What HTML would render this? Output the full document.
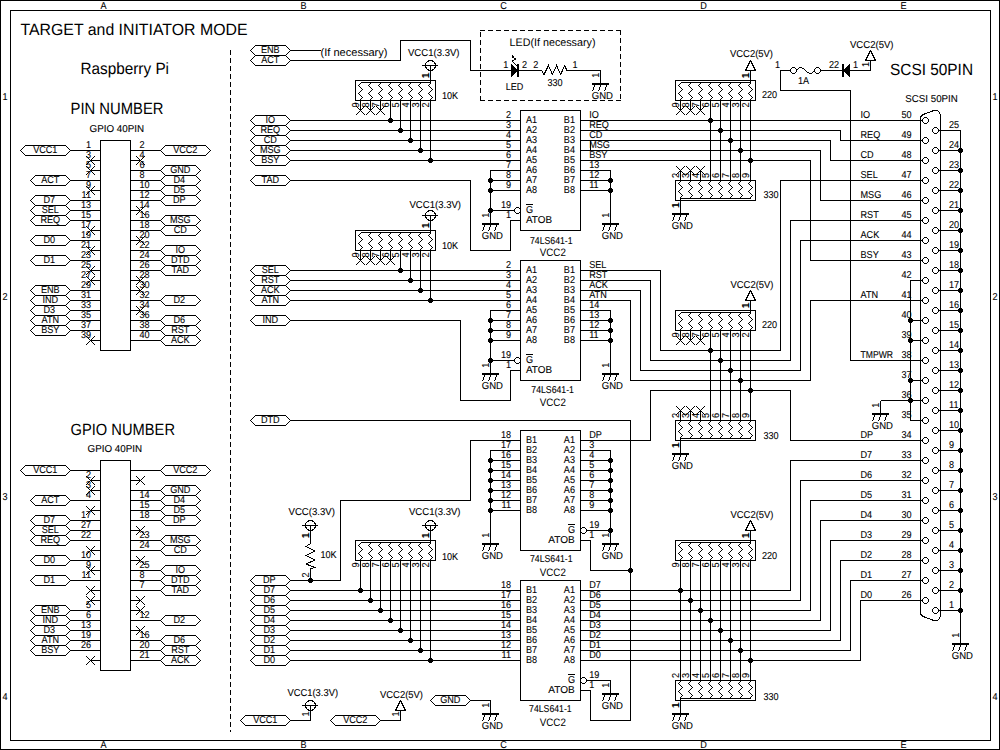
<!DOCTYPE html>
<html lang="en">
<head>
<meta charset="utf-8">
<title>TARGET and INITIATOR MODE - Raspberry Pi SCSI schematic</title>
<style>
html,body{margin:0;padding:0;background:#fff;}
body{width:1000px;height:750px;overflow:hidden;}
svg{display:block;}
svg *{vector-effect:none;}
.g line,.g polyline,.g path,.g rect,.g polygon,.g circle{fill:none;stroke:#000;stroke-width:1;stroke-linecap:butt;stroke-linejoin:miter;}
.g .w{fill:#fff;}
.g .d{fill:#000;stroke:none;}
.g .k{fill:#000;stroke:none;}
.g .x{stroke-linecap:square;}
.g polygon{stroke-linejoin:bevel;}
.g .dash{stroke-dasharray:5 3;}
.g rect.dash{fill:none;}
text{font-family:"Liberation Sans",Arial,Helvetica,sans-serif;fill:#000;stroke:none;text-rendering:geometricPrecision;}
.s{font-size:10px;stroke:#000;stroke-width:0.1px;}
.v{font-size:10.8px;}
.m{font-size:11px;}
.b{font-size:16.3px;}
</style>
</head>
<body>
<svg width="1000" height="750" viewBox="0 0 1000 750">
<rect x="0" y="0" width="1000" height="750" fill="#fff"/>
<g class="g" transform="translate(0.5 0.5)" shape-rendering="crispEdges">
<rect class="w" x="0" y="0" width="999" height="749"/>
<rect class="w" x="10" y="10" width="980" height="730"/>
<text class="s" transform="translate(103 8.2) scale(0.91 1)" text-anchor="middle">A</text>
<text class="s" transform="translate(103 747.5) scale(0.91 1)" text-anchor="middle">A</text>
<text class="s" transform="translate(303 8.2) scale(0.91 1)" text-anchor="middle">B</text>
<text class="s" transform="translate(303 747.5) scale(0.91 1)" text-anchor="middle">B</text>
<text class="s" transform="translate(503 8.2) scale(0.91 1)" text-anchor="middle">C</text>
<text class="s" transform="translate(503 747.5) scale(0.91 1)" text-anchor="middle">C</text>
<text class="s" transform="translate(703 8.2) scale(0.91 1)" text-anchor="middle">D</text>
<text class="s" transform="translate(703 747.5) scale(0.91 1)" text-anchor="middle">D</text>
<text class="s" transform="translate(903 8.2) scale(0.91 1)" text-anchor="middle">E</text>
<text class="s" transform="translate(903 747.5) scale(0.91 1)" text-anchor="middle">E</text>
<text class="s" transform="translate(4.5 99) scale(0.91 1)" text-anchor="middle">1</text>
<text class="s" transform="translate(994.5 99) scale(0.91 1)" text-anchor="middle">1</text>
<text class="s" transform="translate(4.5 299) scale(0.91 1)" text-anchor="middle">2</text>
<text class="s" transform="translate(994.5 299) scale(0.91 1)" text-anchor="middle">2</text>
<text class="s" transform="translate(4.5 499) scale(0.91 1)" text-anchor="middle">3</text>
<text class="s" transform="translate(994.5 499) scale(0.91 1)" text-anchor="middle">3</text>
<text class="s" transform="translate(4.5 699) scale(0.91 1)" text-anchor="middle">4</text>
<text class="s" transform="translate(994.5 699) scale(0.91 1)" text-anchor="middle">4</text>
<text class="b" x="20" y="34.6" textLength="227" lengthAdjust="spacingAndGlyphs">TARGET and INITIATOR MODE</text>
<text class="b" x="80" y="73.3" textLength="88.5" lengthAdjust="spacingAndGlyphs">Raspberry Pi</text>
<text class="b" x="70" y="113.8" textLength="93" lengthAdjust="spacingAndGlyphs">PIN NUMBER</text>
<text class="s" x="89" y="131.3" textLength="54.5" lengthAdjust="spacingAndGlyphs">GPIO 40PIN</text>
<text class="b" x="70" y="434.3" textLength="104.5" lengthAdjust="spacingAndGlyphs">GPIO NUMBER</text>
<text class="s" x="87" y="451.3" textLength="54.5" lengthAdjust="spacingAndGlyphs">GPIO 40PIN</text>
<text class="b" x="889.5" y="74.8" textLength="83" lengthAdjust="spacingAndGlyphs">SCSI 50PIN</text>
<text class="s" x="904.8" y="101.2" textLength="52.5" lengthAdjust="spacingAndGlyphs">SCSI 50PIN</text>
<line x1="230" y1="49.5" x2="230" y2="731" class="dash"/>
<rect class="w" x="100" y="140" width="30" height="210"/>
<polygon class="w" points="20,150 25,145 65,145 70,150 65,155 25,155"/>
<text class="s" transform="translate(44.8 152.1) scale(0.91 1)" text-anchor="middle">VCC1</text>
<line x1="70" y1="150" x2="100" y2="150"/>
<text class="s" transform="translate(90.5 147.2) scale(0.91 1)" text-anchor="end">1</text>
<polygon class="w" points="160,150 165,145 205,145 210,150 205,155 165,155"/>
<text class="s" transform="translate(184.8 152.1) scale(0.91 1)" text-anchor="middle">VCC2</text>
<line x1="130" y1="150" x2="160" y2="150"/>
<text class="s" transform="translate(139 147.2) scale(0.91 1)">2</text>
<line x1="90" y1="160" x2="100" y2="160"/>
<path class="x" d="M85.5 155.5l9 9m0 -9l-9 9"/>
<text class="s" transform="translate(90.5 157.2) scale(0.91 1)" text-anchor="end">3</text>
<line x1="130" y1="160" x2="140" y2="160"/>
<path class="x" d="M135.5 155.5l9 9m0 -9l-9 9"/>
<text class="s" transform="translate(139 157.2) scale(0.91 1)">4</text>
<line x1="90" y1="170" x2="100" y2="170"/>
<path class="x" d="M85.5 165.5l9 9m0 -9l-9 9"/>
<text class="s" transform="translate(90.5 167.2) scale(0.91 1)" text-anchor="end">5</text>
<polygon class="w" points="160,170 165,165 195,165 200,170 195,175 165,175"/>
<text class="s" transform="translate(179.8 172.1) scale(0.91 1)" text-anchor="middle">GND</text>
<line x1="130" y1="170" x2="160" y2="170"/>
<text class="s" transform="translate(139 167.2) scale(0.91 1)">6</text>
<polygon class="w" points="30,180 35,175 65,175 70,180 65,185 35,185"/>
<text class="s" transform="translate(49.8 182.1) scale(0.91 1)" text-anchor="middle">ACT</text>
<line x1="70" y1="180" x2="100" y2="180"/>
<text class="s" transform="translate(90.5 177.2) scale(0.91 1)" text-anchor="end">7</text>
<polygon class="w" points="160,180 165,175 195,175 200,180 195,185 165,185"/>
<text class="s" transform="translate(178.8 182.1) scale(0.91 1)" text-anchor="middle">D4</text>
<line x1="130" y1="180" x2="160" y2="180"/>
<text class="s" transform="translate(139 177.2) scale(0.91 1)">8</text>
<line x1="90" y1="190" x2="100" y2="190"/>
<path class="x" d="M85.5 185.5l9 9m0 -9l-9 9"/>
<text class="s" transform="translate(90.5 187.2) scale(0.91 1)" text-anchor="end">9</text>
<polygon class="w" points="160,190 165,185 195,185 200,190 195,195 165,195"/>
<text class="s" transform="translate(178.8 192.1) scale(0.91 1)" text-anchor="middle">D5</text>
<line x1="130" y1="190" x2="160" y2="190"/>
<text class="s" transform="translate(139 187.2) scale(0.91 1)">10</text>
<polygon class="w" points="30,200 35,195 65,195 70,200 65,205 35,205"/>
<text class="s" transform="translate(48.8 202.1) scale(0.91 1)" text-anchor="middle">D7</text>
<line x1="70" y1="200" x2="100" y2="200"/>
<text class="s" transform="translate(90.5 197.2) scale(0.91 1)" text-anchor="end">11</text>
<polygon class="w" points="160,200 165,195 195,195 200,200 195,205 165,205"/>
<text class="s" transform="translate(178.8 202.1) scale(0.91 1)" text-anchor="middle">DP</text>
<line x1="130" y1="200" x2="160" y2="200"/>
<text class="s" transform="translate(139 197.2) scale(0.91 1)">12</text>
<polygon class="w" points="30,210 35,205 65,205 70,210 65,215 35,215"/>
<text class="s" transform="translate(49.8 212.1) scale(0.91 1)" text-anchor="middle">SEL</text>
<line x1="70" y1="210" x2="100" y2="210"/>
<text class="s" transform="translate(90.5 207.2) scale(0.91 1)" text-anchor="end">13</text>
<line x1="130" y1="210" x2="140" y2="210"/>
<path class="x" d="M135.5 205.5l9 9m0 -9l-9 9"/>
<text class="s" transform="translate(139 207.2) scale(0.91 1)">14</text>
<polygon class="w" points="30,220 35,215 65,215 70,220 65,225 35,225"/>
<text class="s" transform="translate(49.8 222.1) scale(0.91 1)" text-anchor="middle">REQ</text>
<line x1="70" y1="220" x2="100" y2="220"/>
<text class="s" transform="translate(90.5 217.2) scale(0.91 1)" text-anchor="end">15</text>
<polygon class="w" points="160,220 165,215 195,215 200,220 195,225 165,225"/>
<text class="s" transform="translate(179.8 222.1) scale(0.91 1)" text-anchor="middle">MSG</text>
<line x1="130" y1="220" x2="160" y2="220"/>
<text class="s" transform="translate(139 217.2) scale(0.91 1)">16</text>
<line x1="90" y1="230" x2="100" y2="230"/>
<path class="x" d="M85.5 225.5l9 9m0 -9l-9 9"/>
<text class="s" transform="translate(90.5 227.2) scale(0.91 1)" text-anchor="end">17</text>
<polygon class="w" points="160,230 165,225 195,225 200,230 195,235 165,235"/>
<text class="s" transform="translate(179.8 232.1) scale(0.91 1)" text-anchor="middle">CD</text>
<line x1="130" y1="230" x2="160" y2="230"/>
<text class="s" transform="translate(139 227.2) scale(0.91 1)">18</text>
<polygon class="w" points="30,240 35,235 65,235 70,240 65,245 35,245"/>
<text class="s" transform="translate(48.8 242.1) scale(0.91 1)" text-anchor="middle">D0</text>
<line x1="70" y1="240" x2="100" y2="240"/>
<text class="s" transform="translate(90.5 237.2) scale(0.91 1)" text-anchor="end">19</text>
<line x1="130" y1="240" x2="140" y2="240"/>
<path class="x" d="M135.5 235.5l9 9m0 -9l-9 9"/>
<text class="s" transform="translate(139 237.2) scale(0.91 1)">20</text>
<line x1="90" y1="250" x2="100" y2="250"/>
<path class="x" d="M85.5 245.5l9 9m0 -9l-9 9"/>
<text class="s" transform="translate(90.5 247.2) scale(0.91 1)" text-anchor="end">21</text>
<polygon class="w" points="160,250 165,245 195,245 200,250 195,255 165,255"/>
<text class="s" transform="translate(179.8 252.1) scale(0.91 1)" text-anchor="middle">IO</text>
<line x1="130" y1="250" x2="160" y2="250"/>
<text class="s" transform="translate(139 247.2) scale(0.91 1)">22</text>
<polygon class="w" points="30,260 35,255 65,255 70,260 65,265 35,265"/>
<text class="s" transform="translate(48.8 262.1) scale(0.91 1)" text-anchor="middle">D1</text>
<line x1="70" y1="260" x2="100" y2="260"/>
<text class="s" transform="translate(90.5 257.2) scale(0.91 1)" text-anchor="end">23</text>
<polygon class="w" points="160,260 165,255 195,255 200,260 195,265 165,265"/>
<text class="s" transform="translate(179.8 262.1) scale(0.91 1)" text-anchor="middle">DTD</text>
<line x1="130" y1="260" x2="160" y2="260"/>
<text class="s" transform="translate(139 257.2) scale(0.91 1)">24</text>
<line x1="90" y1="270" x2="100" y2="270"/>
<path class="x" d="M85.5 265.5l9 9m0 -9l-9 9"/>
<text class="s" transform="translate(90.5 267.2) scale(0.91 1)" text-anchor="end">25</text>
<polygon class="w" points="160,270 165,265 195,265 200,270 195,275 165,275"/>
<text class="s" transform="translate(179.8 272.1) scale(0.91 1)" text-anchor="middle">TAD</text>
<line x1="130" y1="270" x2="160" y2="270"/>
<text class="s" transform="translate(139 267.2) scale(0.91 1)">26</text>
<line x1="90" y1="280" x2="100" y2="280"/>
<path class="x" d="M85.5 275.5l9 9m0 -9l-9 9"/>
<text class="s" transform="translate(90.5 277.2) scale(0.91 1)" text-anchor="end">27</text>
<line x1="130" y1="280" x2="140" y2="280"/>
<path class="x" d="M135.5 275.5l9 9m0 -9l-9 9"/>
<text class="s" transform="translate(139 277.2) scale(0.91 1)">28</text>
<polygon class="w" points="30,290 35,285 65,285 70,290 65,295 35,295"/>
<text class="s" transform="translate(49.8 292.1) scale(0.91 1)" text-anchor="middle">ENB</text>
<line x1="70" y1="290" x2="100" y2="290"/>
<text class="s" transform="translate(90.5 287.2) scale(0.91 1)" text-anchor="end">29</text>
<line x1="130" y1="290" x2="140" y2="290"/>
<path class="x" d="M135.5 285.5l9 9m0 -9l-9 9"/>
<text class="s" transform="translate(139 287.2) scale(0.91 1)">30</text>
<polygon class="w" points="30,300 35,295 65,295 70,300 65,305 35,305"/>
<text class="s" transform="translate(49.8 302.1) scale(0.91 1)" text-anchor="middle">IND</text>
<line x1="70" y1="300" x2="100" y2="300"/>
<text class="s" transform="translate(90.5 297.2) scale(0.91 1)" text-anchor="end">31</text>
<polygon class="w" points="160,300 165,295 195,295 200,300 195,305 165,305"/>
<text class="s" transform="translate(178.8 302.1) scale(0.91 1)" text-anchor="middle">D2</text>
<line x1="130" y1="300" x2="160" y2="300"/>
<text class="s" transform="translate(139 297.2) scale(0.91 1)">32</text>
<polygon class="w" points="30,310 35,305 65,305 70,310 65,315 35,315"/>
<text class="s" transform="translate(48.8 312.1) scale(0.91 1)" text-anchor="middle">D3</text>
<line x1="70" y1="310" x2="100" y2="310"/>
<text class="s" transform="translate(90.5 307.2) scale(0.91 1)" text-anchor="end">33</text>
<line x1="130" y1="310" x2="140" y2="310"/>
<path class="x" d="M135.5 305.5l9 9m0 -9l-9 9"/>
<text class="s" transform="translate(139 307.2) scale(0.91 1)">34</text>
<polygon class="w" points="30,320 35,315 65,315 70,320 65,325 35,325"/>
<text class="s" transform="translate(49.8 322.1) scale(0.91 1)" text-anchor="middle">ATN</text>
<line x1="70" y1="320" x2="100" y2="320"/>
<text class="s" transform="translate(90.5 317.2) scale(0.91 1)" text-anchor="end">35</text>
<polygon class="w" points="160,320 165,315 195,315 200,320 195,325 165,325"/>
<text class="s" transform="translate(178.8 322.1) scale(0.91 1)" text-anchor="middle">D6</text>
<line x1="130" y1="320" x2="160" y2="320"/>
<text class="s" transform="translate(139 317.2) scale(0.91 1)">36</text>
<polygon class="w" points="30,330 35,325 65,325 70,330 65,335 35,335"/>
<text class="s" transform="translate(49.8 332.1) scale(0.91 1)" text-anchor="middle">BSY</text>
<line x1="70" y1="330" x2="100" y2="330"/>
<text class="s" transform="translate(90.5 327.2) scale(0.91 1)" text-anchor="end">37</text>
<polygon class="w" points="160,330 165,325 195,325 200,330 195,335 165,335"/>
<text class="s" transform="translate(179.8 332.1) scale(0.91 1)" text-anchor="middle">RST</text>
<line x1="130" y1="330" x2="160" y2="330"/>
<text class="s" transform="translate(139 327.2) scale(0.91 1)">38</text>
<line x1="90" y1="340" x2="100" y2="340"/>
<path class="x" d="M85.5 335.5l9 9m0 -9l-9 9"/>
<text class="s" transform="translate(90.5 337.2) scale(0.91 1)" text-anchor="end">39</text>
<polygon class="w" points="160,340 165,335 195,335 200,340 195,345 165,345"/>
<text class="s" transform="translate(179.8 342.1) scale(0.91 1)" text-anchor="middle">ACK</text>
<line x1="130" y1="340" x2="160" y2="340"/>
<text class="s" transform="translate(139 337.2) scale(0.91 1)">40</text>
<rect class="w" x="100" y="460" width="30" height="210"/>
<polygon class="w" points="20,470 25,465 65,465 70,470 65,475 25,475"/>
<text class="s" transform="translate(44.8 472.1) scale(0.91 1)" text-anchor="middle">VCC1</text>
<line x1="70" y1="470" x2="100" y2="470"/>
<polygon class="w" points="160,470 165,465 205,465 210,470 205,475 165,475"/>
<text class="s" transform="translate(184.8 472.1) scale(0.91 1)" text-anchor="middle">VCC2</text>
<line x1="130" y1="470" x2="160" y2="470"/>
<line x1="90" y1="480" x2="100" y2="480"/>
<path class="x" d="M85.5 475.5l9 9m0 -9l-9 9"/>
<text class="s" transform="translate(90.5 477.2) scale(0.91 1)" text-anchor="end">2</text>
<line x1="130" y1="480" x2="140" y2="480"/>
<path class="x" d="M135.5 475.5l9 9m0 -9l-9 9"/>
<line x1="90" y1="490" x2="100" y2="490"/>
<path class="x" d="M85.5 485.5l9 9m0 -9l-9 9"/>
<text class="s" transform="translate(90.5 487.2) scale(0.91 1)" text-anchor="end">3</text>
<polygon class="w" points="160,490 165,485 195,485 200,490 195,495 165,495"/>
<text class="s" transform="translate(179.8 492.1) scale(0.91 1)" text-anchor="middle">GND</text>
<line x1="130" y1="490" x2="160" y2="490"/>
<polygon class="w" points="30,500 35,495 65,495 70,500 65,505 35,505"/>
<text class="s" transform="translate(49.8 502.1) scale(0.91 1)" text-anchor="middle">ACT</text>
<line x1="70" y1="500" x2="100" y2="500"/>
<text class="s" transform="translate(90.5 497.2) scale(0.91 1)" text-anchor="end">4</text>
<polygon class="w" points="160,500 165,495 195,495 200,500 195,505 165,505"/>
<text class="s" transform="translate(178.8 502.1) scale(0.91 1)" text-anchor="middle">D4</text>
<line x1="130" y1="500" x2="160" y2="500"/>
<text class="s" transform="translate(139 497.2) scale(0.91 1)">14</text>
<line x1="90" y1="510" x2="100" y2="510"/>
<path class="x" d="M85.5 505.5l9 9m0 -9l-9 9"/>
<polygon class="w" points="160,510 165,505 195,505 200,510 195,515 165,515"/>
<text class="s" transform="translate(178.8 512.1) scale(0.91 1)" text-anchor="middle">D5</text>
<line x1="130" y1="510" x2="160" y2="510"/>
<text class="s" transform="translate(139 507.2) scale(0.91 1)">15</text>
<polygon class="w" points="30,520 35,515 65,515 70,520 65,525 35,525"/>
<text class="s" transform="translate(48.8 522.1) scale(0.91 1)" text-anchor="middle">D7</text>
<line x1="70" y1="520" x2="100" y2="520"/>
<text class="s" transform="translate(90.5 517.2) scale(0.91 1)" text-anchor="end">17</text>
<polygon class="w" points="160,520 165,515 195,515 200,520 195,525 165,525"/>
<text class="s" transform="translate(178.8 522.1) scale(0.91 1)" text-anchor="middle">DP</text>
<line x1="130" y1="520" x2="160" y2="520"/>
<text class="s" transform="translate(139 517.2) scale(0.91 1)">18</text>
<polygon class="w" points="30,530 35,525 65,525 70,530 65,535 35,535"/>
<text class="s" transform="translate(49.8 532.1) scale(0.91 1)" text-anchor="middle">SEL</text>
<line x1="70" y1="530" x2="100" y2="530"/>
<text class="s" transform="translate(90.5 527.2) scale(0.91 1)" text-anchor="end">27</text>
<line x1="130" y1="530" x2="140" y2="530"/>
<path class="x" d="M135.5 525.5l9 9m0 -9l-9 9"/>
<polygon class="w" points="30,540 35,535 65,535 70,540 65,545 35,545"/>
<text class="s" transform="translate(49.8 542.1) scale(0.91 1)" text-anchor="middle">REQ</text>
<line x1="70" y1="540" x2="100" y2="540"/>
<text class="s" transform="translate(90.5 537.2) scale(0.91 1)" text-anchor="end">22</text>
<polygon class="w" points="160,540 165,535 195,535 200,540 195,545 165,545"/>
<text class="s" transform="translate(179.8 542.1) scale(0.91 1)" text-anchor="middle">MSG</text>
<line x1="130" y1="540" x2="160" y2="540"/>
<text class="s" transform="translate(139 537.2) scale(0.91 1)">23</text>
<line x1="90" y1="550" x2="100" y2="550"/>
<path class="x" d="M85.5 545.5l9 9m0 -9l-9 9"/>
<polygon class="w" points="160,550 165,545 195,545 200,550 195,555 165,555"/>
<text class="s" transform="translate(179.8 552.1) scale(0.91 1)" text-anchor="middle">CD</text>
<line x1="130" y1="550" x2="160" y2="550"/>
<text class="s" transform="translate(139 547.2) scale(0.91 1)">24</text>
<polygon class="w" points="30,560 35,555 65,555 70,560 65,565 35,565"/>
<text class="s" transform="translate(48.8 562.1) scale(0.91 1)" text-anchor="middle">D0</text>
<line x1="70" y1="560" x2="100" y2="560"/>
<text class="s" transform="translate(90.5 557.2) scale(0.91 1)" text-anchor="end">10</text>
<line x1="130" y1="560" x2="140" y2="560"/>
<path class="x" d="M135.5 555.5l9 9m0 -9l-9 9"/>
<line x1="90" y1="570" x2="100" y2="570"/>
<path class="x" d="M85.5 565.5l9 9m0 -9l-9 9"/>
<text class="s" transform="translate(90.5 567.2) scale(0.91 1)" text-anchor="end">9</text>
<polygon class="w" points="160,570 165,565 195,565 200,570 195,575 165,575"/>
<text class="s" transform="translate(179.8 572.1) scale(0.91 1)" text-anchor="middle">IO</text>
<line x1="130" y1="570" x2="160" y2="570"/>
<text class="s" transform="translate(139 567.2) scale(0.91 1)">25</text>
<polygon class="w" points="30,580 35,575 65,575 70,580 65,585 35,585"/>
<text class="s" transform="translate(48.8 582.1) scale(0.91 1)" text-anchor="middle">D1</text>
<line x1="70" y1="580" x2="100" y2="580"/>
<text class="s" transform="translate(90.5 577.2) scale(0.91 1)" text-anchor="end">11</text>
<polygon class="w" points="160,580 165,575 195,575 200,580 195,585 165,585"/>
<text class="s" transform="translate(179.8 582.1) scale(0.91 1)" text-anchor="middle">DTD</text>
<line x1="130" y1="580" x2="160" y2="580"/>
<text class="s" transform="translate(139 577.2) scale(0.91 1)">8</text>
<line x1="90" y1="590" x2="100" y2="590"/>
<path class="x" d="M85.5 585.5l9 9m0 -9l-9 9"/>
<polygon class="w" points="160,590 165,585 195,585 200,590 195,595 165,595"/>
<text class="s" transform="translate(179.8 592.1) scale(0.91 1)" text-anchor="middle">TAD</text>
<line x1="130" y1="590" x2="160" y2="590"/>
<text class="s" transform="translate(139 587.2) scale(0.91 1)">7</text>
<line x1="90" y1="600" x2="100" y2="600"/>
<path class="x" d="M85.5 595.5l9 9m0 -9l-9 9"/>
<line x1="130" y1="600" x2="140" y2="600"/>
<path class="x" d="M135.5 595.5l9 9m0 -9l-9 9"/>
<polygon class="w" points="30,610 35,605 65,605 70,610 65,615 35,615"/>
<text class="s" transform="translate(49.8 612.1) scale(0.91 1)" text-anchor="middle">ENB</text>
<line x1="70" y1="610" x2="100" y2="610"/>
<text class="s" transform="translate(90.5 607.2) scale(0.91 1)" text-anchor="end">5</text>
<line x1="130" y1="610" x2="140" y2="610"/>
<path class="x" d="M135.5 605.5l9 9m0 -9l-9 9"/>
<polygon class="w" points="30,620 35,615 65,615 70,620 65,625 35,625"/>
<text class="s" transform="translate(49.8 622.1) scale(0.91 1)" text-anchor="middle">IND</text>
<line x1="70" y1="620" x2="100" y2="620"/>
<text class="s" transform="translate(90.5 617.2) scale(0.91 1)" text-anchor="end">6</text>
<polygon class="w" points="160,620 165,615 195,615 200,620 195,625 165,625"/>
<text class="s" transform="translate(178.8 622.1) scale(0.91 1)" text-anchor="middle">D2</text>
<line x1="130" y1="620" x2="160" y2="620"/>
<text class="s" transform="translate(139 617.2) scale(0.91 1)">12</text>
<polygon class="w" points="30,630 35,625 65,625 70,630 65,635 35,635"/>
<text class="s" transform="translate(48.8 632.1) scale(0.91 1)" text-anchor="middle">D3</text>
<line x1="70" y1="630" x2="100" y2="630"/>
<text class="s" transform="translate(90.5 627.2) scale(0.91 1)" text-anchor="end">13</text>
<line x1="130" y1="630" x2="140" y2="630"/>
<path class="x" d="M135.5 625.5l9 9m0 -9l-9 9"/>
<polygon class="w" points="30,640 35,635 65,635 70,640 65,645 35,645"/>
<text class="s" transform="translate(49.8 642.1) scale(0.91 1)" text-anchor="middle">ATN</text>
<line x1="70" y1="640" x2="100" y2="640"/>
<text class="s" transform="translate(90.5 637.2) scale(0.91 1)" text-anchor="end">19</text>
<polygon class="w" points="160,640 165,635 195,635 200,640 195,645 165,645"/>
<text class="s" transform="translate(178.8 642.1) scale(0.91 1)" text-anchor="middle">D6</text>
<line x1="130" y1="640" x2="160" y2="640"/>
<text class="s" transform="translate(139 637.2) scale(0.91 1)">16</text>
<polygon class="w" points="30,650 35,645 65,645 70,650 65,655 35,655"/>
<text class="s" transform="translate(49.8 652.1) scale(0.91 1)" text-anchor="middle">BSY</text>
<line x1="70" y1="650" x2="100" y2="650"/>
<text class="s" transform="translate(90.5 647.2) scale(0.91 1)" text-anchor="end">26</text>
<polygon class="w" points="160,650 165,645 195,645 200,650 195,655 165,655"/>
<text class="s" transform="translate(179.8 652.1) scale(0.91 1)" text-anchor="middle">RST</text>
<line x1="130" y1="650" x2="160" y2="650"/>
<text class="s" transform="translate(139 647.2) scale(0.91 1)">20</text>
<line x1="90" y1="660" x2="100" y2="660"/>
<path class="x" d="M85.5 655.5l9 9m0 -9l-9 9"/>
<polygon class="w" points="160,660 165,655 195,655 200,660 195,665 165,665"/>
<text class="s" transform="translate(179.8 662.1) scale(0.91 1)" text-anchor="middle">ACK</text>
<line x1="130" y1="660" x2="160" y2="660"/>
<text class="s" transform="translate(139 657.2) scale(0.91 1)">21</text>
<polygon class="w" points="250,50 255,45 285,45 290,50 285,55 255,55"/>
<text class="s" transform="translate(269.8 52.1) scale(0.91 1)" text-anchor="middle">ENB</text>
<polygon class="w" points="250,60 255,55 285,55 290,60 285,65 255,65"/>
<text class="s" transform="translate(269.8 62.1) scale(0.91 1)" text-anchor="middle">ACT</text>
<polygon class="w" points="250,120 255,115 285,115 290,120 285,125 255,125"/>
<text class="s" transform="translate(269.8 122.1) scale(0.91 1)" text-anchor="middle">IO</text>
<polygon class="w" points="250,130 255,125 285,125 290,130 285,135 255,135"/>
<text class="s" transform="translate(269.8 132.1) scale(0.91 1)" text-anchor="middle">REQ</text>
<polygon class="w" points="250,140 255,135 285,135 290,140 285,145 255,145"/>
<text class="s" transform="translate(269.8 142.1) scale(0.91 1)" text-anchor="middle">CD</text>
<polygon class="w" points="250,150 255,145 285,145 290,150 285,155 255,155"/>
<text class="s" transform="translate(269.8 152.1) scale(0.91 1)" text-anchor="middle">MSG</text>
<polygon class="w" points="250,160 255,155 285,155 290,160 285,165 255,165"/>
<text class="s" transform="translate(269.8 162.1) scale(0.91 1)" text-anchor="middle">BSY</text>
<polygon class="w" points="250,180 255,175 285,175 290,180 285,185 255,185"/>
<text class="s" transform="translate(269.8 182.1) scale(0.91 1)" text-anchor="middle">TAD</text>
<polygon class="w" points="250,270 255,265 285,265 290,270 285,275 255,275"/>
<text class="s" transform="translate(269.8 272.1) scale(0.91 1)" text-anchor="middle">SEL</text>
<polygon class="w" points="250,280 255,275 285,275 290,280 285,285 255,285"/>
<text class="s" transform="translate(269.8 282.1) scale(0.91 1)" text-anchor="middle">RST</text>
<polygon class="w" points="250,290 255,285 285,285 290,290 285,295 255,295"/>
<text class="s" transform="translate(269.8 292.1) scale(0.91 1)" text-anchor="middle">ACK</text>
<polygon class="w" points="250,300 255,295 285,295 290,300 285,305 255,305"/>
<text class="s" transform="translate(269.8 302.1) scale(0.91 1)" text-anchor="middle">ATN</text>
<polygon class="w" points="250,320 255,315 285,315 290,320 285,325 255,325"/>
<text class="s" transform="translate(269.8 322.1) scale(0.91 1)" text-anchor="middle">IND</text>
<polygon class="w" points="250,420 255,415 285,415 290,420 285,425 255,425"/>
<text class="s" transform="translate(269.8 422.1) scale(0.91 1)" text-anchor="middle">DTD</text>
<polygon class="w" points="250,580 255,575 285,575 290,580 285,585 255,585"/>
<text class="s" transform="translate(268.8 582.1) scale(0.91 1)" text-anchor="middle">DP</text>
<polygon class="w" points="250,590 255,585 285,585 290,590 285,595 255,595"/>
<text class="s" transform="translate(268.8 592.1) scale(0.91 1)" text-anchor="middle">D7</text>
<polygon class="w" points="250,600 255,595 285,595 290,600 285,605 255,605"/>
<text class="s" transform="translate(268.8 602.1) scale(0.91 1)" text-anchor="middle">D6</text>
<polygon class="w" points="250,610 255,605 285,605 290,610 285,615 255,615"/>
<text class="s" transform="translate(268.8 612.1) scale(0.91 1)" text-anchor="middle">D5</text>
<polygon class="w" points="250,620 255,615 285,615 290,620 285,625 255,625"/>
<text class="s" transform="translate(268.8 622.1) scale(0.91 1)" text-anchor="middle">D4</text>
<polygon class="w" points="250,630 255,625 285,625 290,630 285,635 255,635"/>
<text class="s" transform="translate(268.8 632.1) scale(0.91 1)" text-anchor="middle">D3</text>
<polygon class="w" points="250,640 255,635 285,635 290,640 285,645 255,645"/>
<text class="s" transform="translate(268.8 642.1) scale(0.91 1)" text-anchor="middle">D2</text>
<polygon class="w" points="250,650 255,645 285,645 290,650 285,655 255,655"/>
<text class="s" transform="translate(268.8 652.1) scale(0.91 1)" text-anchor="middle">D1</text>
<polygon class="w" points="250,660 255,655 285,655 290,660 285,665 255,665"/>
<text class="s" transform="translate(268.8 662.1) scale(0.91 1)" text-anchor="middle">D0</text>
<line x1="290" y1="50" x2="320" y2="50"/>
<text class="m" x="320" y="55.5" textLength="67" lengthAdjust="spacingAndGlyphs">(If necessary)</text>
<polyline points="290,60 400,60 400,40 470,40 470,70 511,70"/>
<line x1="479.5" y1="30" x2="620.5" y2="30" class="dash"/>
<line x1="620" y1="29.5" x2="620" y2="100.5" class="dash"/>
<line x1="620.5" y1="100" x2="479.5" y2="100" class="dash"/>
<line x1="480" y1="100.5" x2="480" y2="29.5" class="dash"/>
<text class="m" x="509" y="45" textLength="86" lengthAdjust="spacingAndGlyphs">LED(If necessary)</text>
<polygon class="k" points="510.4,63.4 510.4,76.600 517.5,70"/>
<rect class="k" x="516.5" y="63.5" width="2" height="13"/>
<polyline points="516.4,65.4 511.6,60.6 515.2,58.8 512.2,56"/>
<path class="k" d="M510.8 54.3l3.600 1.200l-2.400 2.300z"/>
<polyline points="518,70 541.3,70 543.5,74 548,65 551.9,74 556.1,65 560.2,74 564.2,65 566.4,70 600,70"/>
<line x1="600" y1="70" x2="600" y2="83"/>
<rect class="k" x="591.5" y="82.5" width="17" height="2"/>
<line x1="594.3" y1="84.5" x2="592.3" y2="90.5"/>
<line x1="600.3" y1="84.5" x2="598.3" y2="90.5"/>
<line x1="606.3" y1="84.5" x2="604.3" y2="90.5"/>
<text class="s" x="591.3" y="98.2" textLength="21.2" lengthAdjust="spacingAndGlyphs">GND</text>
<text class="s" text-anchor="middle" transform="translate(598.5 74.7) rotate(-90) scale(0.91 1)">1</text>
<text class="s" transform="translate(502.8 67.5) scale(0.91 1)">1</text>
<text class="s" transform="translate(521.6 67.5) scale(0.91 1)">2</text>
<text class="s" transform="translate(532.7 67.5) scale(0.91 1)">2</text>
<text class="s" transform="translate(572 67.5) scale(0.91 1)">1</text>
<text class="s" x="505.2" y="89.3" textLength="17.5" lengthAdjust="spacingAndGlyphs">LED</text>
<text class="s" transform="translate(547 85.5) scale(0.91 1)">330</text>
<line x1="290" y1="120" x2="520" y2="120"/>
<line x1="290" y1="130" x2="520" y2="130"/>
<line x1="290" y1="140" x2="520" y2="140"/>
<line x1="290" y1="150" x2="520" y2="150"/>
<line x1="290" y1="160" x2="520" y2="160"/>
<rect class="w" x="355" y="80" width="80" height="20"/>
<line x1="360" y1="82" x2="430" y2="82"/>
<polyline points="430,82 430,83 428,85 432,89 428,93 432,97 430,99 430,100"/>
<text class="s" text-anchor="middle" transform="translate(428.2 104.4) rotate(-90) scale(0.91 1)">2</text>
<line x1="430" y1="100" x2="430" y2="160"/>
<circle class="d" cx="430" cy="160" r="2.6"/>
<polyline points="420,82 420,83 418,85 422,89 418,93 422,97 420,99 420,100"/>
<text class="s" text-anchor="middle" transform="translate(418.2 104.4) rotate(-90) scale(0.91 1)">3</text>
<line x1="420" y1="100" x2="420" y2="150"/>
<circle class="d" cx="420" cy="150" r="2.6"/>
<polyline points="410,82 410,83 408,85 412,89 408,93 412,97 410,99 410,100"/>
<text class="s" text-anchor="middle" transform="translate(408.2 104.4) rotate(-90) scale(0.91 1)">4</text>
<line x1="410" y1="100" x2="410" y2="140"/>
<circle class="d" cx="410" cy="140" r="2.6"/>
<polyline points="400,82 400,83 398,85 402,89 398,93 402,97 400,99 400,100"/>
<text class="s" text-anchor="middle" transform="translate(398.2 104.4) rotate(-90) scale(0.91 1)">5</text>
<line x1="400" y1="100" x2="400" y2="130"/>
<circle class="d" cx="400" cy="130" r="2.6"/>
<polyline points="390,82 390,83 388,85 392,89 388,93 392,97 390,99 390,100"/>
<text class="s" text-anchor="middle" transform="translate(388.2 104.4) rotate(-90) scale(0.91 1)">6</text>
<line x1="390" y1="100" x2="390" y2="120"/>
<circle class="d" cx="390" cy="120" r="2.6"/>
<polyline points="380,82 380,83 378,85 382,89 378,93 382,97 380,99 380,100"/>
<text class="s" text-anchor="middle" transform="translate(378.2 104.4) rotate(-90) scale(0.91 1)">7</text>
<line x1="380" y1="100" x2="380" y2="110"/>
<path class="x" d="M375.5 105.5l9 9m0 -9l-9 9"/>
<polyline points="370,82 370,83 368,85 372,89 368,93 372,97 370,99 370,100"/>
<text class="s" text-anchor="middle" transform="translate(368.2 104.4) rotate(-90) scale(0.91 1)">8</text>
<line x1="370" y1="100" x2="370" y2="110"/>
<path class="x" d="M365.5 105.5l9 9m0 -9l-9 9"/>
<polyline points="360,82 360,83 358,85 362,89 358,93 362,97 360,99 360,100"/>
<text class="s" text-anchor="middle" transform="translate(358.2 104.4) rotate(-90) scale(0.91 1)">9</text>
<line x1="360" y1="100" x2="360" y2="110"/>
<path class="x" d="M355.5 105.5l9 9m0 -9l-9 9"/>
<text class="s" transform="translate(441.5 98.2) scale(0.91 1)">10K</text>
<line x1="430" y1="65" x2="430" y2="82"/>
<circle cx="430" cy="65" r="5"/>
<line x1="421.5" y1="65" x2="437.5" y2="65"/>
<text class="s" x="407.5" y="55.3" textLength="51.5" lengthAdjust="spacingAndGlyphs">VCC1(3.3V)</text>
<text class="s" text-anchor="middle" transform="translate(428.5 74.5) rotate(-90) scale(0.91 1)">1</text>
<text class="s" text-anchor="middle" transform="translate(428.5 75.5) rotate(-90) scale(0.91 1)">1</text>
<rect class="w" x="520" y="110" width="60" height="120"/>
<text class="s" transform="translate(525.5 122.3) scale(0.91 1)">A1</text>
<text class="s" transform="translate(574.5 122.3) scale(0.91 1)" text-anchor="end">B1</text>
<text class="s" transform="translate(510.5 117) scale(0.91 1)" text-anchor="end">2</text>
<text class="s" transform="translate(588.7 117) scale(0.91 1)">IO</text>
<text class="s" transform="translate(525.5 132.3) scale(0.91 1)">A2</text>
<text class="s" transform="translate(574.5 132.3) scale(0.91 1)" text-anchor="end">B2</text>
<text class="s" transform="translate(510.5 127) scale(0.91 1)" text-anchor="end">3</text>
<text class="s" transform="translate(588.7 127) scale(0.91 1)">REQ</text>
<text class="s" transform="translate(525.5 142.3) scale(0.91 1)">A3</text>
<text class="s" transform="translate(574.5 142.3) scale(0.91 1)" text-anchor="end">B3</text>
<text class="s" transform="translate(510.5 137) scale(0.91 1)" text-anchor="end">4</text>
<text class="s" transform="translate(588.7 137) scale(0.91 1)">CD</text>
<text class="s" transform="translate(525.5 152.3) scale(0.91 1)">A4</text>
<text class="s" transform="translate(574.5 152.3) scale(0.91 1)" text-anchor="end">B4</text>
<text class="s" transform="translate(510.5 147) scale(0.91 1)" text-anchor="end">5</text>
<text class="s" transform="translate(588.7 147) scale(0.91 1)">MSG</text>
<text class="s" transform="translate(525.5 162.3) scale(0.91 1)">A5</text>
<text class="s" transform="translate(574.5 162.3) scale(0.91 1)" text-anchor="end">B5</text>
<text class="s" transform="translate(510.5 157) scale(0.91 1)" text-anchor="end">6</text>
<text class="s" transform="translate(588.7 157) scale(0.91 1)">BSY</text>
<text class="s" transform="translate(525.5 172.3) scale(0.91 1)">A6</text>
<text class="s" transform="translate(574.5 172.3) scale(0.91 1)" text-anchor="end">B6</text>
<text class="s" transform="translate(510.5 167) scale(0.91 1)" text-anchor="end">7</text>
<text class="s" transform="translate(588.7 167) scale(0.91 1)">13</text>
<text class="s" transform="translate(525.5 182.3) scale(0.91 1)">A7</text>
<text class="s" transform="translate(574.5 182.3) scale(0.91 1)" text-anchor="end">B7</text>
<text class="s" transform="translate(510.5 177) scale(0.91 1)" text-anchor="end">8</text>
<text class="s" transform="translate(588.7 177) scale(0.91 1)">12</text>
<text class="s" transform="translate(525.5 192.3) scale(0.91 1)">A8</text>
<text class="s" transform="translate(574.5 192.3) scale(0.91 1)" text-anchor="end">B8</text>
<text class="s" transform="translate(510.5 187) scale(0.91 1)" text-anchor="end">9</text>
<text class="s" transform="translate(588.7 187) scale(0.91 1)">11</text>
<path class="w" d="M516 207h2l2 2v2l-2 2h-2l-2 -2v-2z"/>
<text class="s" transform="translate(525.5 212.5) scale(0.91 1)">G</text>
<line x1="525" y1="204" x2="532" y2="204"/>
<text class="s" x="525.5" y="222.8" textLength="26" lengthAdjust="spacingAndGlyphs">ATOB</text>
<text class="s" transform="translate(510.5 207.4) scale(0.91 1)" text-anchor="end">19</text>
<text class="s" transform="translate(510.5 217.2) scale(0.91 1)" text-anchor="end">1</text>
<text class="s" x="550.8" y="243.2" text-anchor="middle" textLength="42.6" lengthAdjust="spacingAndGlyphs">74LS641-1</text>
<text class="v" x="552.3" y="255.2" text-anchor="middle" textLength="26.2" lengthAdjust="spacingAndGlyphs">VCC2</text>
<polyline points="520,170 490,170 490,210"/>
<line x1="490" y1="180" x2="520" y2="180"/>
<line x1="490" y1="190" x2="520" y2="190"/>
<line x1="490" y1="210" x2="514" y2="210"/>
<circle class="d" cx="490" cy="180" r="2.6"/>
<circle class="d" cx="490" cy="190" r="2.6"/>
<circle class="d" cx="490" cy="210" r="2.6"/>
<line x1="490" y1="210" x2="490" y2="223"/>
<rect class="k" x="481.5" y="222.5" width="17" height="2"/>
<line x1="484.3" y1="224.5" x2="482.3" y2="230.5"/>
<line x1="490.3" y1="224.5" x2="488.3" y2="230.5"/>
<line x1="496.3" y1="224.5" x2="494.3" y2="230.5"/>
<text class="s" x="481.3" y="238.2" textLength="21.2" lengthAdjust="spacingAndGlyphs">GND</text>
<text class="s" text-anchor="middle" transform="translate(488.5 214.7) rotate(-90) scale(0.91 1)">1</text>
<polyline points="520,220 510,220 510,250 470,250 470,180 290,180"/>
<line x1="580" y1="120" x2="920" y2="120"/>
<polyline points="580,130 840,130 840,140 920,140"/>
<polyline points="580,140 830,140 830,160 920,160"/>
<polyline points="580,150 820,150 820,200 920,200"/>
<line x1="590" y1="140" x2="590" y2="150"/>
<polyline points="580,160 810,160 810,260 920,260"/>
<polyline points="580,170 610,170 610,210"/>
<line x1="580" y1="180" x2="610" y2="180"/>
<line x1="580" y1="190" x2="610" y2="190"/>
<circle class="d" cx="610" cy="180" r="2.6"/>
<circle class="d" cx="610" cy="190" r="2.6"/>
<line x1="610" y1="210" x2="610" y2="223"/>
<rect class="k" x="601.5" y="222.5" width="17" height="2"/>
<line x1="604.3" y1="224.5" x2="602.3" y2="230.5"/>
<line x1="610.3" y1="224.5" x2="608.3" y2="230.5"/>
<line x1="616.3" y1="224.5" x2="614.3" y2="230.5"/>
<text class="s" x="601.3" y="238.2" textLength="21.2" lengthAdjust="spacingAndGlyphs">GND</text>
<text class="s" text-anchor="middle" transform="translate(608.5 214.7) rotate(-90) scale(0.91 1)">1</text>
<rect class="w" x="675" y="80" width="80" height="20"/>
<line x1="680" y1="82" x2="750" y2="82"/>
<polyline points="750,82 750,83 748,85 752,89 748,93 752,97 750,99 750,100"/>
<text class="s" text-anchor="middle" transform="translate(748.2 104.4) rotate(-90) scale(0.91 1)">2</text>
<line x1="750" y1="100" x2="750" y2="180"/>
<circle class="d" cx="750" cy="160" r="2.6"/>
<polyline points="740,82 740,83 738,85 742,89 738,93 742,97 740,99 740,100"/>
<text class="s" text-anchor="middle" transform="translate(738.2 104.4) rotate(-90) scale(0.91 1)">3</text>
<line x1="740" y1="100" x2="740" y2="180"/>
<circle class="d" cx="740" cy="150" r="2.6"/>
<polyline points="730,82 730,83 728,85 732,89 728,93 732,97 730,99 730,100"/>
<text class="s" text-anchor="middle" transform="translate(728.2 104.4) rotate(-90) scale(0.91 1)">4</text>
<line x1="730" y1="100" x2="730" y2="180"/>
<circle class="d" cx="730" cy="140" r="2.6"/>
<polyline points="720,82 720,83 718,85 722,89 718,93 722,97 720,99 720,100"/>
<text class="s" text-anchor="middle" transform="translate(718.2 104.4) rotate(-90) scale(0.91 1)">5</text>
<line x1="720" y1="100" x2="720" y2="180"/>
<circle class="d" cx="720" cy="130" r="2.6"/>
<polyline points="710,82 710,83 708,85 712,89 708,93 712,97 710,99 710,100"/>
<text class="s" text-anchor="middle" transform="translate(708.2 104.4) rotate(-90) scale(0.91 1)">6</text>
<line x1="710" y1="100" x2="710" y2="180"/>
<circle class="d" cx="710" cy="120" r="2.6"/>
<polyline points="700,82 700,83 698,85 702,89 698,93 702,97 700,99 700,100"/>
<text class="s" text-anchor="middle" transform="translate(698.2 104.4) rotate(-90) scale(0.91 1)">7</text>
<line x1="700" y1="100" x2="700" y2="110"/>
<path class="x" d="M695.5 105.5l9 9m0 -9l-9 9"/>
<polyline points="690,82 690,83 688,85 692,89 688,93 692,97 690,99 690,100"/>
<text class="s" text-anchor="middle" transform="translate(688.2 104.4) rotate(-90) scale(0.91 1)">8</text>
<line x1="690" y1="100" x2="690" y2="110"/>
<path class="x" d="M685.5 105.5l9 9m0 -9l-9 9"/>
<polyline points="680,82 680,83 678,85 682,89 678,93 682,97 680,99 680,100"/>
<text class="s" text-anchor="middle" transform="translate(678.2 104.4) rotate(-90) scale(0.91 1)">9</text>
<line x1="680" y1="100" x2="680" y2="110"/>
<path class="x" d="M675.5 105.5l9 9m0 -9l-9 9"/>
<text class="s" transform="translate(761.5 97.4) scale(0.91 1)">220</text>
<line x1="750" y1="70" x2="750" y2="82"/>
<polygon class="w" points="745,70 755,70 750,60"/>
<text class="s" x="729.5" y="56.8" textLength="43" lengthAdjust="spacingAndGlyphs">VCC2(5V)</text>
<text class="s" text-anchor="middle" transform="translate(748.5 74.5) rotate(-90) scale(0.91 1)">1</text>
<text class="s" text-anchor="middle" transform="translate(748.5 75.5) rotate(-90) scale(0.91 1)">1</text>
<rect class="w" x="675" y="180" width="80" height="20"/>
<line x1="680" y1="198" x2="750" y2="198"/>
<polyline points="680,180 680,181 678,183 682,187 678,191 682,195 680,197 680,198"/>
<text class="s" text-anchor="middle" transform="translate(678.2 175) rotate(-90) scale(0.91 1)">2</text>
<line x1="680" y1="180" x2="680" y2="170"/>
<path class="x" d="M675.5 165.5l9 9m0 -9l-9 9"/>
<polyline points="690,180 690,181 688,183 692,187 688,191 692,195 690,197 690,198"/>
<text class="s" text-anchor="middle" transform="translate(688.2 175) rotate(-90) scale(0.91 1)">3</text>
<line x1="690" y1="180" x2="690" y2="170"/>
<path class="x" d="M685.5 165.5l9 9m0 -9l-9 9"/>
<polyline points="700,180 700,181 698,183 702,187 698,191 702,195 700,197 700,198"/>
<text class="s" text-anchor="middle" transform="translate(698.2 175) rotate(-90) scale(0.91 1)">4</text>
<line x1="700" y1="180" x2="700" y2="170"/>
<path class="x" d="M695.5 165.5l9 9m0 -9l-9 9"/>
<polyline points="710,180 710,181 708,183 712,187 708,191 712,195 710,197 710,198"/>
<text class="s" text-anchor="middle" transform="translate(708.2 175) rotate(-90) scale(0.91 1)">5</text>
<polyline points="720,180 720,181 718,183 722,187 718,191 722,195 720,197 720,198"/>
<text class="s" text-anchor="middle" transform="translate(718.2 175) rotate(-90) scale(0.91 1)">6</text>
<polyline points="730,180 730,181 728,183 732,187 728,191 732,195 730,197 730,198"/>
<text class="s" text-anchor="middle" transform="translate(728.2 175) rotate(-90) scale(0.91 1)">7</text>
<polyline points="740,180 740,181 738,183 742,187 738,191 742,195 740,197 740,198"/>
<text class="s" text-anchor="middle" transform="translate(738.2 175) rotate(-90) scale(0.91 1)">8</text>
<polyline points="750,180 750,181 748,183 752,187 748,191 752,195 750,197 750,198"/>
<text class="s" text-anchor="middle" transform="translate(748.2 175) rotate(-90) scale(0.91 1)">9</text>
<text class="s" transform="translate(763 197.6) scale(0.91 1)">330</text>
<line x1="680" y1="198" x2="680" y2="200"/>
<line x1="680" y1="200" x2="680" y2="213"/>
<rect class="k" x="671.5" y="212.5" width="17" height="2"/>
<line x1="674.3" y1="214.5" x2="672.3" y2="220.5"/>
<line x1="680.3" y1="214.5" x2="678.3" y2="220.5"/>
<line x1="686.3" y1="214.5" x2="684.3" y2="220.5"/>
<text class="s" x="671.3" y="228.2" textLength="21.2" lengthAdjust="spacingAndGlyphs">GND</text>
<text class="s" text-anchor="middle" transform="translate(678.5 204.2) rotate(-90) scale(0.91 1)">1</text>
<text class="s" text-anchor="middle" transform="translate(678.5 205.2) rotate(-90) scale(0.91 1)">1</text>
<line x1="290" y1="270" x2="520" y2="270"/>
<line x1="290" y1="280" x2="520" y2="280"/>
<line x1="290" y1="290" x2="520" y2="290"/>
<line x1="290" y1="300" x2="520" y2="300"/>
<rect class="w" x="355" y="230" width="80" height="20"/>
<line x1="360" y1="232" x2="430" y2="232"/>
<polyline points="430,232 430,233 428,235 432,239 428,243 432,247 430,249 430,250"/>
<text class="s" text-anchor="middle" transform="translate(428.2 254.4) rotate(-90) scale(0.91 1)">2</text>
<line x1="430" y1="250" x2="430" y2="300"/>
<circle class="d" cx="430" cy="300" r="2.6"/>
<polyline points="420,232 420,233 418,235 422,239 418,243 422,247 420,249 420,250"/>
<text class="s" text-anchor="middle" transform="translate(418.2 254.4) rotate(-90) scale(0.91 1)">3</text>
<line x1="420" y1="250" x2="420" y2="290"/>
<circle class="d" cx="420" cy="290" r="2.6"/>
<polyline points="410,232 410,233 408,235 412,239 408,243 412,247 410,249 410,250"/>
<text class="s" text-anchor="middle" transform="translate(408.2 254.4) rotate(-90) scale(0.91 1)">4</text>
<line x1="410" y1="250" x2="410" y2="280"/>
<circle class="d" cx="410" cy="280" r="2.6"/>
<polyline points="400,232 400,233 398,235 402,239 398,243 402,247 400,249 400,250"/>
<text class="s" text-anchor="middle" transform="translate(398.2 254.4) rotate(-90) scale(0.91 1)">5</text>
<line x1="400" y1="250" x2="400" y2="270"/>
<circle class="d" cx="400" cy="270" r="2.6"/>
<polyline points="390,232 390,233 388,235 392,239 388,243 392,247 390,249 390,250"/>
<text class="s" text-anchor="middle" transform="translate(388.2 254.4) rotate(-90) scale(0.91 1)">6</text>
<line x1="390" y1="250" x2="390" y2="260"/>
<path class="x" d="M385.5 255.5l9 9m0 -9l-9 9"/>
<polyline points="380,232 380,233 378,235 382,239 378,243 382,247 380,249 380,250"/>
<text class="s" text-anchor="middle" transform="translate(378.2 254.4) rotate(-90) scale(0.91 1)">7</text>
<line x1="380" y1="250" x2="380" y2="260"/>
<path class="x" d="M375.5 255.5l9 9m0 -9l-9 9"/>
<polyline points="370,232 370,233 368,235 372,239 368,243 372,247 370,249 370,250"/>
<text class="s" text-anchor="middle" transform="translate(368.2 254.4) rotate(-90) scale(0.91 1)">8</text>
<line x1="370" y1="250" x2="370" y2="260"/>
<path class="x" d="M365.5 255.5l9 9m0 -9l-9 9"/>
<polyline points="360,232 360,233 358,235 362,239 358,243 362,247 360,249 360,250"/>
<text class="s" text-anchor="middle" transform="translate(358.2 254.4) rotate(-90) scale(0.91 1)">9</text>
<line x1="360" y1="250" x2="360" y2="260"/>
<path class="x" d="M355.5 255.5l9 9m0 -9l-9 9"/>
<text class="s" transform="translate(441.5 248.2) scale(0.91 1)">10K</text>
<line x1="430" y1="215" x2="430" y2="232"/>
<circle cx="430" cy="215" r="5"/>
<line x1="421.5" y1="215" x2="437.5" y2="215"/>
<text class="s" x="409" y="207" textLength="51.5" lengthAdjust="spacingAndGlyphs">VCC1(3.3V)</text>
<text class="s" text-anchor="middle" transform="translate(428.5 224.5) rotate(-90) scale(0.91 1)">1</text>
<text class="s" text-anchor="middle" transform="translate(428.5 225.5) rotate(-90) scale(0.91 1)">1</text>
<rect class="w" x="520" y="260" width="60" height="120"/>
<text class="s" transform="translate(525.5 272.3) scale(0.91 1)">A1</text>
<text class="s" transform="translate(574.5 272.3) scale(0.91 1)" text-anchor="end">B1</text>
<text class="s" transform="translate(510.5 267) scale(0.91 1)" text-anchor="end">2</text>
<text class="s" transform="translate(588.7 267) scale(0.91 1)">SEL</text>
<text class="s" transform="translate(525.5 282.3) scale(0.91 1)">A2</text>
<text class="s" transform="translate(574.5 282.3) scale(0.91 1)" text-anchor="end">B2</text>
<text class="s" transform="translate(510.5 277) scale(0.91 1)" text-anchor="end">3</text>
<text class="s" transform="translate(588.7 277) scale(0.91 1)">RST</text>
<text class="s" transform="translate(525.5 292.3) scale(0.91 1)">A3</text>
<text class="s" transform="translate(574.5 292.3) scale(0.91 1)" text-anchor="end">B3</text>
<text class="s" transform="translate(510.5 287) scale(0.91 1)" text-anchor="end">4</text>
<text class="s" transform="translate(588.7 287) scale(0.91 1)">ACK</text>
<text class="s" transform="translate(525.5 302.3) scale(0.91 1)">A4</text>
<text class="s" transform="translate(574.5 302.3) scale(0.91 1)" text-anchor="end">B4</text>
<text class="s" transform="translate(510.5 297) scale(0.91 1)" text-anchor="end">5</text>
<text class="s" transform="translate(588.7 297) scale(0.91 1)">ATN</text>
<text class="s" transform="translate(525.5 312.3) scale(0.91 1)">A5</text>
<text class="s" transform="translate(574.5 312.3) scale(0.91 1)" text-anchor="end">B5</text>
<text class="s" transform="translate(510.5 307) scale(0.91 1)" text-anchor="end">6</text>
<text class="s" transform="translate(588.7 307) scale(0.91 1)">14</text>
<text class="s" transform="translate(525.5 322.3) scale(0.91 1)">A6</text>
<text class="s" transform="translate(574.5 322.3) scale(0.91 1)" text-anchor="end">B6</text>
<text class="s" transform="translate(510.5 317) scale(0.91 1)" text-anchor="end">7</text>
<text class="s" transform="translate(588.7 317) scale(0.91 1)">13</text>
<text class="s" transform="translate(525.5 332.3) scale(0.91 1)">A7</text>
<text class="s" transform="translate(574.5 332.3) scale(0.91 1)" text-anchor="end">B7</text>
<text class="s" transform="translate(510.5 327) scale(0.91 1)" text-anchor="end">8</text>
<text class="s" transform="translate(588.7 327) scale(0.91 1)">12</text>
<text class="s" transform="translate(525.5 342.3) scale(0.91 1)">A8</text>
<text class="s" transform="translate(574.5 342.3) scale(0.91 1)" text-anchor="end">B8</text>
<text class="s" transform="translate(510.5 337) scale(0.91 1)" text-anchor="end">9</text>
<text class="s" transform="translate(588.7 337) scale(0.91 1)">11</text>
<path class="w" d="M516 357h2l2 2v2l-2 2h-2l-2 -2v-2z"/>
<text class="s" transform="translate(525.5 362.5) scale(0.91 1)">G</text>
<line x1="525" y1="354" x2="532" y2="354"/>
<text class="s" x="525.5" y="372.8" textLength="26" lengthAdjust="spacingAndGlyphs">ATOB</text>
<text class="s" transform="translate(510.5 357.4) scale(0.91 1)" text-anchor="end">19</text>
<text class="s" transform="translate(510.5 367.2) scale(0.91 1)" text-anchor="end">1</text>
<text class="s" x="552.1" y="392.1" text-anchor="middle" textLength="42.6" lengthAdjust="spacingAndGlyphs">74LS641-1</text>
<text class="v" x="552.3" y="405.2" text-anchor="middle" textLength="26.2" lengthAdjust="spacingAndGlyphs">VCC2</text>
<polyline points="520,310 490,310 490,360"/>
<line x1="490" y1="320" x2="520" y2="320"/>
<line x1="490" y1="330" x2="520" y2="330"/>
<line x1="490" y1="340" x2="520" y2="340"/>
<line x1="490" y1="360" x2="514" y2="360"/>
<circle class="d" cx="490" cy="320" r="2.6"/>
<circle class="d" cx="490" cy="330" r="2.6"/>
<circle class="d" cx="490" cy="340" r="2.6"/>
<circle class="d" cx="490" cy="360" r="2.6"/>
<line x1="490" y1="360" x2="490" y2="373"/>
<rect class="k" x="481.5" y="372.5" width="17" height="2"/>
<line x1="484.3" y1="374.5" x2="482.3" y2="380.5"/>
<line x1="490.3" y1="374.5" x2="488.3" y2="380.5"/>
<line x1="496.3" y1="374.5" x2="494.3" y2="380.5"/>
<text class="s" x="481.3" y="388.2" textLength="21.2" lengthAdjust="spacingAndGlyphs">GND</text>
<text class="s" text-anchor="middle" transform="translate(488.5 364.7) rotate(-90) scale(0.91 1)">1</text>
<polyline points="520,370 510,370 510,400 460,400 460,320 290,320"/>
<polyline points="580,270 660,270 660,350 780,350 780,180 920,180"/>
<polyline points="580,280 650,280 650,360 790,360 790,220 920,220"/>
<polyline points="580,290 640,290 640,370 800,370 800,240 920,240"/>
<polyline points="580,300 630,300 630,380 810,380 810,300 920,300"/>
<polyline points="580,310 610,310 610,360"/>
<line x1="580" y1="320" x2="610" y2="320"/>
<line x1="580" y1="330" x2="610" y2="330"/>
<line x1="580" y1="340" x2="610" y2="340"/>
<circle class="d" cx="610" cy="320" r="2.6"/>
<circle class="d" cx="610" cy="330" r="2.6"/>
<circle class="d" cx="610" cy="340" r="2.6"/>
<line x1="610" y1="360" x2="610" y2="373"/>
<rect class="k" x="601.5" y="372.5" width="17" height="2"/>
<line x1="604.3" y1="374.5" x2="602.3" y2="380.5"/>
<line x1="610.3" y1="374.5" x2="608.3" y2="380.5"/>
<line x1="616.3" y1="374.5" x2="614.3" y2="380.5"/>
<text class="s" x="601.3" y="388.2" textLength="21.2" lengthAdjust="spacingAndGlyphs">GND</text>
<text class="s" text-anchor="middle" transform="translate(608.5 364.7) rotate(-90) scale(0.91 1)">1</text>
<rect class="w" x="675" y="310" width="80" height="20"/>
<line x1="680" y1="312" x2="750" y2="312"/>
<polyline points="750,312 750,313 748,315 752,319 748,323 752,327 750,329 750,330"/>
<text class="s" text-anchor="middle" transform="translate(748.2 334.4) rotate(-90) scale(0.91 1)">2</text>
<line x1="750" y1="330" x2="750" y2="420"/>
<circle class="d" cx="750" cy="390" r="2.6"/>
<polyline points="740,312 740,313 738,315 742,319 738,323 742,327 740,329 740,330"/>
<text class="s" text-anchor="middle" transform="translate(738.2 334.4) rotate(-90) scale(0.91 1)">3</text>
<line x1="740" y1="330" x2="740" y2="420"/>
<circle class="d" cx="740" cy="380" r="2.6"/>
<polyline points="730,312 730,313 728,315 732,319 728,323 732,327 730,329 730,330"/>
<text class="s" text-anchor="middle" transform="translate(728.2 334.4) rotate(-90) scale(0.91 1)">4</text>
<line x1="730" y1="330" x2="730" y2="420"/>
<circle class="d" cx="730" cy="370" r="2.6"/>
<polyline points="720,312 720,313 718,315 722,319 718,323 722,327 720,329 720,330"/>
<text class="s" text-anchor="middle" transform="translate(718.2 334.4) rotate(-90) scale(0.91 1)">5</text>
<line x1="720" y1="330" x2="720" y2="420"/>
<circle class="d" cx="720" cy="360" r="2.6"/>
<polyline points="710,312 710,313 708,315 712,319 708,323 712,327 710,329 710,330"/>
<text class="s" text-anchor="middle" transform="translate(708.2 334.4) rotate(-90) scale(0.91 1)">6</text>
<line x1="710" y1="330" x2="710" y2="420"/>
<circle class="d" cx="710" cy="350" r="2.6"/>
<polyline points="700,312 700,313 698,315 702,319 698,323 702,327 700,329 700,330"/>
<text class="s" text-anchor="middle" transform="translate(698.2 334.4) rotate(-90) scale(0.91 1)">7</text>
<line x1="700" y1="330" x2="700" y2="340"/>
<path class="x" d="M695.5 335.5l9 9m0 -9l-9 9"/>
<polyline points="690,312 690,313 688,315 692,319 688,323 692,327 690,329 690,330"/>
<text class="s" text-anchor="middle" transform="translate(688.2 334.4) rotate(-90) scale(0.91 1)">8</text>
<line x1="690" y1="330" x2="690" y2="340"/>
<path class="x" d="M685.5 335.5l9 9m0 -9l-9 9"/>
<polyline points="680,312 680,313 678,315 682,319 678,323 682,327 680,329 680,330"/>
<text class="s" text-anchor="middle" transform="translate(678.2 334.4) rotate(-90) scale(0.91 1)">9</text>
<line x1="680" y1="330" x2="680" y2="340"/>
<path class="x" d="M675.5 335.5l9 9m0 -9l-9 9"/>
<text class="s" transform="translate(761.5 327.4) scale(0.91 1)">220</text>
<line x1="750" y1="300" x2="750" y2="312"/>
<polygon class="w" points="745,300 755,300 750,290"/>
<text class="s" x="730" y="287.3" textLength="43" lengthAdjust="spacingAndGlyphs">VCC2(5V)</text>
<text class="s" text-anchor="middle" transform="translate(748.5 304.5) rotate(-90) scale(0.91 1)">1</text>
<text class="s" text-anchor="middle" transform="translate(748.5 305.5) rotate(-90) scale(0.91 1)">1</text>
<rect class="w" x="675" y="420" width="80" height="20"/>
<line x1="680" y1="438" x2="750" y2="438"/>
<polyline points="680,420 680,421 678,423 682,427 678,431 682,435 680,437 680,438"/>
<text class="s" text-anchor="middle" transform="translate(678.2 415) rotate(-90) scale(0.91 1)">2</text>
<line x1="680" y1="420" x2="680" y2="410"/>
<path class="x" d="M675.5 405.5l9 9m0 -9l-9 9"/>
<polyline points="690,420 690,421 688,423 692,427 688,431 692,435 690,437 690,438"/>
<text class="s" text-anchor="middle" transform="translate(688.2 415) rotate(-90) scale(0.91 1)">3</text>
<line x1="690" y1="420" x2="690" y2="410"/>
<path class="x" d="M685.5 405.5l9 9m0 -9l-9 9"/>
<polyline points="700,420 700,421 698,423 702,427 698,431 702,435 700,437 700,438"/>
<text class="s" text-anchor="middle" transform="translate(698.2 415) rotate(-90) scale(0.91 1)">4</text>
<line x1="700" y1="420" x2="700" y2="410"/>
<path class="x" d="M695.5 405.5l9 9m0 -9l-9 9"/>
<polyline points="710,420 710,421 708,423 712,427 708,431 712,435 710,437 710,438"/>
<text class="s" text-anchor="middle" transform="translate(708.2 415) rotate(-90) scale(0.91 1)">5</text>
<polyline points="720,420 720,421 718,423 722,427 718,431 722,435 720,437 720,438"/>
<text class="s" text-anchor="middle" transform="translate(718.2 415) rotate(-90) scale(0.91 1)">6</text>
<polyline points="730,420 730,421 728,423 732,427 728,431 732,435 730,437 730,438"/>
<text class="s" text-anchor="middle" transform="translate(728.2 415) rotate(-90) scale(0.91 1)">7</text>
<polyline points="740,420 740,421 738,423 742,427 738,431 742,435 740,437 740,438"/>
<text class="s" text-anchor="middle" transform="translate(738.2 415) rotate(-90) scale(0.91 1)">8</text>
<polyline points="750,420 750,421 748,423 752,427 748,431 752,435 750,437 750,438"/>
<text class="s" text-anchor="middle" transform="translate(748.2 415) rotate(-90) scale(0.91 1)">9</text>
<text class="s" transform="translate(763 438.1) scale(0.91 1)">330</text>
<line x1="680" y1="438" x2="680" y2="440"/>
<line x1="680" y1="440" x2="680" y2="453"/>
<rect class="k" x="671.5" y="452.5" width="17" height="2"/>
<line x1="674.3" y1="454.5" x2="672.3" y2="460.5"/>
<line x1="680.3" y1="454.5" x2="678.3" y2="460.5"/>
<line x1="686.3" y1="454.5" x2="684.3" y2="460.5"/>
<text class="s" x="671.3" y="468.2" textLength="21.2" lengthAdjust="spacingAndGlyphs">GND</text>
<text class="s" text-anchor="middle" transform="translate(678.5 444.2) rotate(-90) scale(0.91 1)">1</text>
<text class="s" text-anchor="middle" transform="translate(678.5 445.2) rotate(-90) scale(0.91 1)">1</text>
<polyline points="290,420 630,420 630,720 590,720 590,690 580,690"/>
<polyline points="630,570 590,570 590,540 580,540"/>
<circle class="d" cx="630" cy="570" r="2.6"/>
<polyline points="290,580 340,580 340,500 470,500 470,440 520,440"/>
<polyline points="310,525 310,543 305.5,546 314.5,550.5 305.5,555 314.5,559.5 305.5,563.5 314.5,567 310,568 310,580"/>
<circle cx="310" cy="525" r="5"/>
<line x1="301.5" y1="525" x2="317.5" y2="525"/>
<text class="s" x="288" y="514.6" textLength="46.5" lengthAdjust="spacingAndGlyphs">VCC(3.3V)</text>
<circle class="d" cx="310" cy="580" r="2.6"/>
<text class="s" text-anchor="middle" transform="translate(308.5 534.5) rotate(-90) scale(0.91 1)">1</text>
<text class="s" text-anchor="middle" transform="translate(308.5 535.5) rotate(-90) scale(0.91 1)">1</text>
<text class="s" text-anchor="middle" transform="translate(308.5 574.5) rotate(-90) scale(0.91 1)">2</text>
<text class="s" transform="translate(320 557.5) scale(0.91 1)">10K</text>
<rect class="w" x="520" y="430" width="60" height="120"/>
<text class="s" transform="translate(525.5 442.3) scale(0.91 1)">B1</text>
<text class="s" transform="translate(574.5 442.3) scale(0.91 1)" text-anchor="end">A1</text>
<text class="s" transform="translate(510.5 437) scale(0.91 1)" text-anchor="end">18</text>
<text class="s" transform="translate(588.7 437) scale(0.91 1)">DP</text>
<text class="s" transform="translate(525.5 452.3) scale(0.91 1)">B2</text>
<text class="s" transform="translate(574.5 452.3) scale(0.91 1)" text-anchor="end">A2</text>
<text class="s" transform="translate(510.5 447) scale(0.91 1)" text-anchor="end">17</text>
<text class="s" transform="translate(588.7 447) scale(0.91 1)">3</text>
<text class="s" transform="translate(525.5 462.3) scale(0.91 1)">B3</text>
<text class="s" transform="translate(574.5 462.3) scale(0.91 1)" text-anchor="end">A3</text>
<text class="s" transform="translate(510.5 457) scale(0.91 1)" text-anchor="end">16</text>
<text class="s" transform="translate(588.7 457) scale(0.91 1)">4</text>
<text class="s" transform="translate(525.5 472.3) scale(0.91 1)">B4</text>
<text class="s" transform="translate(574.5 472.3) scale(0.91 1)" text-anchor="end">A4</text>
<text class="s" transform="translate(510.5 467) scale(0.91 1)" text-anchor="end">15</text>
<text class="s" transform="translate(588.7 467) scale(0.91 1)">5</text>
<text class="s" transform="translate(525.5 482.3) scale(0.91 1)">B5</text>
<text class="s" transform="translate(574.5 482.3) scale(0.91 1)" text-anchor="end">A5</text>
<text class="s" transform="translate(510.5 477) scale(0.91 1)" text-anchor="end">14</text>
<text class="s" transform="translate(588.7 477) scale(0.91 1)">6</text>
<text class="s" transform="translate(525.5 492.3) scale(0.91 1)">B6</text>
<text class="s" transform="translate(574.5 492.3) scale(0.91 1)" text-anchor="end">A6</text>
<text class="s" transform="translate(510.5 487) scale(0.91 1)" text-anchor="end">13</text>
<text class="s" transform="translate(588.7 487) scale(0.91 1)">7</text>
<text class="s" transform="translate(525.5 502.3) scale(0.91 1)">B7</text>
<text class="s" transform="translate(574.5 502.3) scale(0.91 1)" text-anchor="end">A7</text>
<text class="s" transform="translate(510.5 497) scale(0.91 1)" text-anchor="end">12</text>
<text class="s" transform="translate(588.7 497) scale(0.91 1)">8</text>
<text class="s" transform="translate(525.5 512.3) scale(0.91 1)">B8</text>
<text class="s" transform="translate(574.5 512.3) scale(0.91 1)" text-anchor="end">A8</text>
<text class="s" transform="translate(510.5 507) scale(0.91 1)" text-anchor="end">11</text>
<text class="s" transform="translate(588.7 507) scale(0.91 1)">9</text>
<path class="w" d="M582 527h2l2 2v2l-2 2h-2l-2 -2v-2z"/>
<text class="s" transform="translate(574.5 532.5) scale(0.91 1)" text-anchor="end">G</text>
<line x1="567.5" y1="524" x2="574.5" y2="524"/>
<text class="s" x="547.8" y="542.8" textLength="26.5" lengthAdjust="spacingAndGlyphs">ATOB</text>
<text class="s" transform="translate(588.7 527.4) scale(0.91 1)">19</text>
<text class="s" transform="translate(588.7 537.2) scale(0.91 1)">1</text>
<text class="s" x="550.8" y="561.2" text-anchor="middle" textLength="42.6" lengthAdjust="spacingAndGlyphs">74LS641-1</text>
<text class="v" x="552.3" y="575.2" text-anchor="middle" textLength="26.2" lengthAdjust="spacingAndGlyphs">VCC2</text>
<polyline points="520,450 490,450 490,530"/>
<line x1="490" y1="460" x2="520" y2="460"/>
<circle class="d" cx="490" cy="460" r="2.6"/>
<line x1="490" y1="470" x2="520" y2="470"/>
<circle class="d" cx="490" cy="470" r="2.6"/>
<line x1="490" y1="480" x2="520" y2="480"/>
<circle class="d" cx="490" cy="480" r="2.6"/>
<line x1="490" y1="490" x2="520" y2="490"/>
<circle class="d" cx="490" cy="490" r="2.6"/>
<line x1="490" y1="500" x2="520" y2="500"/>
<circle class="d" cx="490" cy="500" r="2.6"/>
<line x1="490" y1="510" x2="520" y2="510"/>
<circle class="d" cx="490" cy="510" r="2.6"/>
<line x1="490" y1="530" x2="490" y2="543"/>
<rect class="k" x="481.5" y="542.5" width="17" height="2"/>
<line x1="484.3" y1="544.5" x2="482.3" y2="550.5"/>
<line x1="490.3" y1="544.5" x2="488.3" y2="550.5"/>
<line x1="496.3" y1="544.5" x2="494.3" y2="550.5"/>
<text class="s" x="481.3" y="558.2" textLength="21.2" lengthAdjust="spacingAndGlyphs">GND</text>
<text class="s" text-anchor="middle" transform="translate(488.5 534.7) rotate(-90) scale(0.91 1)">1</text>
<polyline points="580,450 610,450 610,530"/>
<line x1="580" y1="460" x2="610" y2="460"/>
<circle class="d" cx="610" cy="460" r="2.6"/>
<line x1="580" y1="470" x2="610" y2="470"/>
<circle class="d" cx="610" cy="470" r="2.6"/>
<line x1="580" y1="480" x2="610" y2="480"/>
<circle class="d" cx="610" cy="480" r="2.6"/>
<line x1="580" y1="490" x2="610" y2="490"/>
<circle class="d" cx="610" cy="490" r="2.6"/>
<line x1="580" y1="500" x2="610" y2="500"/>
<circle class="d" cx="610" cy="500" r="2.6"/>
<line x1="580" y1="510" x2="610" y2="510"/>
<circle class="d" cx="610" cy="510" r="2.6"/>
<line x1="586" y1="530" x2="610" y2="530"/>
<circle class="d" cx="610" cy="530" r="2.6"/>
<line x1="610" y1="530" x2="610" y2="543"/>
<rect class="k" x="601.5" y="542.5" width="17" height="2"/>
<line x1="604.3" y1="544.5" x2="602.3" y2="550.5"/>
<line x1="610.3" y1="544.5" x2="608.3" y2="550.5"/>
<line x1="616.3" y1="544.5" x2="614.3" y2="550.5"/>
<text class="s" x="601.3" y="558.2" textLength="21.2" lengthAdjust="spacingAndGlyphs">GND</text>
<text class="s" text-anchor="middle" transform="translate(608.5 534.7) rotate(-90) scale(0.91 1)">1</text>
<polyline points="580,440 650,440 650,390 790,390 790,440 920,440"/>
<line x1="290" y1="590" x2="520" y2="590"/>
<line x1="290" y1="600" x2="520" y2="600"/>
<line x1="290" y1="610" x2="520" y2="610"/>
<line x1="290" y1="620" x2="520" y2="620"/>
<line x1="290" y1="630" x2="520" y2="630"/>
<line x1="290" y1="640" x2="520" y2="640"/>
<line x1="290" y1="650" x2="520" y2="650"/>
<line x1="290" y1="660" x2="520" y2="660"/>
<rect class="w" x="355" y="540" width="80" height="20"/>
<line x1="360" y1="542" x2="430" y2="542"/>
<polyline points="430,542 430,543 428,545 432,549 428,553 432,557 430,559 430,560"/>
<text class="s" text-anchor="middle" transform="translate(428.2 564.4) rotate(-90) scale(0.91 1)">2</text>
<line x1="430" y1="560" x2="430" y2="660"/>
<circle class="d" cx="430" cy="660" r="2.6"/>
<polyline points="420,542 420,543 418,545 422,549 418,553 422,557 420,559 420,560"/>
<text class="s" text-anchor="middle" transform="translate(418.2 564.4) rotate(-90) scale(0.91 1)">3</text>
<line x1="420" y1="560" x2="420" y2="650"/>
<circle class="d" cx="420" cy="650" r="2.6"/>
<polyline points="410,542 410,543 408,545 412,549 408,553 412,557 410,559 410,560"/>
<text class="s" text-anchor="middle" transform="translate(408.2 564.4) rotate(-90) scale(0.91 1)">4</text>
<line x1="410" y1="560" x2="410" y2="640"/>
<circle class="d" cx="410" cy="640" r="2.6"/>
<polyline points="400,542 400,543 398,545 402,549 398,553 402,557 400,559 400,560"/>
<text class="s" text-anchor="middle" transform="translate(398.2 564.4) rotate(-90) scale(0.91 1)">5</text>
<line x1="400" y1="560" x2="400" y2="630"/>
<circle class="d" cx="400" cy="630" r="2.6"/>
<polyline points="390,542 390,543 388,545 392,549 388,553 392,557 390,559 390,560"/>
<text class="s" text-anchor="middle" transform="translate(388.2 564.4) rotate(-90) scale(0.91 1)">6</text>
<line x1="390" y1="560" x2="390" y2="620"/>
<circle class="d" cx="390" cy="620" r="2.6"/>
<polyline points="380,542 380,543 378,545 382,549 378,553 382,557 380,559 380,560"/>
<text class="s" text-anchor="middle" transform="translate(378.2 564.4) rotate(-90) scale(0.91 1)">7</text>
<line x1="380" y1="560" x2="380" y2="610"/>
<circle class="d" cx="380" cy="610" r="2.6"/>
<polyline points="370,542 370,543 368,545 372,549 368,553 372,557 370,559 370,560"/>
<text class="s" text-anchor="middle" transform="translate(368.2 564.4) rotate(-90) scale(0.91 1)">8</text>
<line x1="370" y1="560" x2="370" y2="600"/>
<circle class="d" cx="370" cy="600" r="2.6"/>
<polyline points="360,542 360,543 358,545 362,549 358,553 362,557 360,559 360,560"/>
<text class="s" text-anchor="middle" transform="translate(358.2 564.4) rotate(-90) scale(0.91 1)">9</text>
<line x1="360" y1="560" x2="360" y2="590"/>
<circle class="d" cx="360" cy="590" r="2.6"/>
<text class="s" transform="translate(441.5 559.5) scale(0.91 1)">10K</text>
<line x1="430" y1="525" x2="430" y2="542"/>
<circle cx="430" cy="525" r="5"/>
<line x1="421.5" y1="525" x2="437.5" y2="525"/>
<text class="s" x="408.5" y="514" textLength="51.5" lengthAdjust="spacingAndGlyphs">VCC1(3.3V)</text>
<text class="s" text-anchor="middle" transform="translate(428.5 534.5) rotate(-90) scale(0.91 1)">1</text>
<text class="s" text-anchor="middle" transform="translate(428.5 535.5) rotate(-90) scale(0.91 1)">1</text>
<rect class="w" x="520" y="580" width="60" height="120"/>
<text class="s" transform="translate(525.5 592.3) scale(0.91 1)">B1</text>
<text class="s" transform="translate(574.5 592.3) scale(0.91 1)" text-anchor="end">A1</text>
<text class="s" transform="translate(510.5 587) scale(0.91 1)" text-anchor="end">18</text>
<text class="s" transform="translate(588.7 587) scale(0.91 1)">D7</text>
<text class="s" transform="translate(525.5 602.3) scale(0.91 1)">B2</text>
<text class="s" transform="translate(574.5 602.3) scale(0.91 1)" text-anchor="end">A2</text>
<text class="s" transform="translate(510.5 597) scale(0.91 1)" text-anchor="end">17</text>
<text class="s" transform="translate(588.7 597) scale(0.91 1)">D6</text>
<text class="s" transform="translate(525.5 612.3) scale(0.91 1)">B3</text>
<text class="s" transform="translate(574.5 612.3) scale(0.91 1)" text-anchor="end">A3</text>
<text class="s" transform="translate(510.5 607) scale(0.91 1)" text-anchor="end">16</text>
<text class="s" transform="translate(588.7 607) scale(0.91 1)">D5</text>
<text class="s" transform="translate(525.5 622.3) scale(0.91 1)">B4</text>
<text class="s" transform="translate(574.5 622.3) scale(0.91 1)" text-anchor="end">A4</text>
<text class="s" transform="translate(510.5 617) scale(0.91 1)" text-anchor="end">15</text>
<text class="s" transform="translate(588.7 617) scale(0.91 1)">D4</text>
<text class="s" transform="translate(525.5 632.3) scale(0.91 1)">B5</text>
<text class="s" transform="translate(574.5 632.3) scale(0.91 1)" text-anchor="end">A5</text>
<text class="s" transform="translate(510.5 627) scale(0.91 1)" text-anchor="end">14</text>
<text class="s" transform="translate(588.7 627) scale(0.91 1)">D3</text>
<text class="s" transform="translate(525.5 642.3) scale(0.91 1)">B6</text>
<text class="s" transform="translate(574.5 642.3) scale(0.91 1)" text-anchor="end">A6</text>
<text class="s" transform="translate(510.5 637) scale(0.91 1)" text-anchor="end">13</text>
<text class="s" transform="translate(588.7 637) scale(0.91 1)">D2</text>
<text class="s" transform="translate(525.5 652.3) scale(0.91 1)">B7</text>
<text class="s" transform="translate(574.5 652.3) scale(0.91 1)" text-anchor="end">A7</text>
<text class="s" transform="translate(510.5 647) scale(0.91 1)" text-anchor="end">12</text>
<text class="s" transform="translate(588.7 647) scale(0.91 1)">D1</text>
<text class="s" transform="translate(525.5 662.3) scale(0.91 1)">B8</text>
<text class="s" transform="translate(574.5 662.3) scale(0.91 1)" text-anchor="end">A8</text>
<text class="s" transform="translate(510.5 657) scale(0.91 1)" text-anchor="end">11</text>
<text class="s" transform="translate(588.7 657) scale(0.91 1)">D0</text>
<path class="w" d="M582 677h2l2 2v2l-2 2h-2l-2 -2v-2z"/>
<text class="s" transform="translate(574.5 682.5) scale(0.91 1)" text-anchor="end">G</text>
<line x1="567.5" y1="674" x2="574.5" y2="674"/>
<text class="s" x="547.8" y="692.8" textLength="26.5" lengthAdjust="spacingAndGlyphs">ATOB</text>
<text class="s" transform="translate(588.7 677.4) scale(0.91 1)">19</text>
<text class="s" transform="translate(588.7 687.2) scale(0.91 1)">1</text>
<text class="s" x="549.9" y="711.2" text-anchor="middle" textLength="42.6" lengthAdjust="spacingAndGlyphs">74LS641-1</text>
<text class="v" x="552.3" y="725.2" text-anchor="middle" textLength="26.2" lengthAdjust="spacingAndGlyphs">VCC2</text>
<line x1="586" y1="680" x2="610" y2="680"/>
<line x1="610" y1="680" x2="610" y2="693"/>
<rect class="k" x="601.5" y="692.5" width="17" height="2"/>
<line x1="604.3" y1="694.5" x2="602.3" y2="700.5"/>
<line x1="610.3" y1="694.5" x2="608.3" y2="700.5"/>
<line x1="616.3" y1="694.5" x2="614.3" y2="700.5"/>
<text class="s" x="601.3" y="708.2" textLength="21.2" lengthAdjust="spacingAndGlyphs">GND</text>
<text class="s" text-anchor="middle" transform="translate(608.5 684.7) rotate(-90) scale(0.91 1)">1</text>
<polyline points="580,590 790,590 790,460 920,460"/>
<polyline points="580,600 800,600 800,480 920,480"/>
<polyline points="580,610 810,610 810,500 920,500"/>
<polyline points="580,620 820,620 820,520 920,520"/>
<polyline points="580,630 830,630 830,540 920,540"/>
<polyline points="580,640 840,640 840,560 920,560"/>
<polyline points="580,650 850,650 850,580 920,580"/>
<polyline points="580,660 860,660 860,600 920,600"/>
<rect class="w" x="675" y="540" width="80" height="20"/>
<line x1="680" y1="542" x2="750" y2="542"/>
<polyline points="750,542 750,543 748,545 752,549 748,553 752,557 750,559 750,560"/>
<text class="s" text-anchor="middle" transform="translate(748.2 564.4) rotate(-90) scale(0.91 1)">2</text>
<line x1="750" y1="560" x2="750" y2="680"/>
<circle class="d" cx="750" cy="660" r="2.6"/>
<polyline points="740,542 740,543 738,545 742,549 738,553 742,557 740,559 740,560"/>
<text class="s" text-anchor="middle" transform="translate(738.2 564.4) rotate(-90) scale(0.91 1)">3</text>
<line x1="740" y1="560" x2="740" y2="680"/>
<circle class="d" cx="740" cy="650" r="2.6"/>
<polyline points="730,542 730,543 728,545 732,549 728,553 732,557 730,559 730,560"/>
<text class="s" text-anchor="middle" transform="translate(728.2 564.4) rotate(-90) scale(0.91 1)">4</text>
<line x1="730" y1="560" x2="730" y2="680"/>
<circle class="d" cx="730" cy="640" r="2.6"/>
<polyline points="720,542 720,543 718,545 722,549 718,553 722,557 720,559 720,560"/>
<text class="s" text-anchor="middle" transform="translate(718.2 564.4) rotate(-90) scale(0.91 1)">5</text>
<line x1="720" y1="560" x2="720" y2="680"/>
<circle class="d" cx="720" cy="630" r="2.6"/>
<polyline points="710,542 710,543 708,545 712,549 708,553 712,557 710,559 710,560"/>
<text class="s" text-anchor="middle" transform="translate(708.2 564.4) rotate(-90) scale(0.91 1)">6</text>
<line x1="710" y1="560" x2="710" y2="680"/>
<circle class="d" cx="710" cy="620" r="2.6"/>
<polyline points="700,542 700,543 698,545 702,549 698,553 702,557 700,559 700,560"/>
<text class="s" text-anchor="middle" transform="translate(698.2 564.4) rotate(-90) scale(0.91 1)">7</text>
<line x1="700" y1="560" x2="700" y2="680"/>
<circle class="d" cx="700" cy="610" r="2.6"/>
<polyline points="690,542 690,543 688,545 692,549 688,553 692,557 690,559 690,560"/>
<text class="s" text-anchor="middle" transform="translate(688.2 564.4) rotate(-90) scale(0.91 1)">8</text>
<line x1="690" y1="560" x2="690" y2="680"/>
<circle class="d" cx="690" cy="600" r="2.6"/>
<polyline points="680,542 680,543 678,545 682,549 678,553 682,557 680,559 680,560"/>
<text class="s" text-anchor="middle" transform="translate(678.2 564.4) rotate(-90) scale(0.91 1)">9</text>
<line x1="680" y1="560" x2="680" y2="680"/>
<circle class="d" cx="680" cy="590" r="2.6"/>
<text class="s" transform="translate(761.5 558.4) scale(0.91 1)">220</text>
<line x1="750" y1="530" x2="750" y2="542"/>
<polygon class="w" points="745,530 755,530 750,520"/>
<text class="s" x="730" y="517.3" textLength="43" lengthAdjust="spacingAndGlyphs">VCC2(5V)</text>
<text class="s" text-anchor="middle" transform="translate(748.5 534.5) rotate(-90) scale(0.91 1)">1</text>
<text class="s" text-anchor="middle" transform="translate(748.5 535.5) rotate(-90) scale(0.91 1)">1</text>
<rect class="w" x="675" y="680" width="80" height="20"/>
<line x1="680" y1="698" x2="750" y2="698"/>
<polyline points="680,680 680,681 678,683 682,687 678,691 682,695 680,697 680,698"/>
<text class="s" text-anchor="middle" transform="translate(678.2 675) rotate(-90) scale(0.91 1)">2</text>
<polyline points="690,680 690,681 688,683 692,687 688,691 692,695 690,697 690,698"/>
<text class="s" text-anchor="middle" transform="translate(688.2 675) rotate(-90) scale(0.91 1)">3</text>
<polyline points="700,680 700,681 698,683 702,687 698,691 702,695 700,697 700,698"/>
<text class="s" text-anchor="middle" transform="translate(698.2 675) rotate(-90) scale(0.91 1)">4</text>
<polyline points="710,680 710,681 708,683 712,687 708,691 712,695 710,697 710,698"/>
<text class="s" text-anchor="middle" transform="translate(708.2 675) rotate(-90) scale(0.91 1)">5</text>
<polyline points="720,680 720,681 718,683 722,687 718,691 722,695 720,697 720,698"/>
<text class="s" text-anchor="middle" transform="translate(718.2 675) rotate(-90) scale(0.91 1)">6</text>
<polyline points="730,680 730,681 728,683 732,687 728,691 732,695 730,697 730,698"/>
<text class="s" text-anchor="middle" transform="translate(728.2 675) rotate(-90) scale(0.91 1)">7</text>
<polyline points="740,680 740,681 738,683 742,687 738,691 742,695 740,697 740,698"/>
<text class="s" text-anchor="middle" transform="translate(738.2 675) rotate(-90) scale(0.91 1)">8</text>
<polyline points="750,680 750,681 748,683 752,687 748,691 752,695 750,697 750,698"/>
<text class="s" text-anchor="middle" transform="translate(748.2 675) rotate(-90) scale(0.91 1)">9</text>
<text class="s" transform="translate(763 699.4) scale(0.91 1)">330</text>
<line x1="680" y1="698" x2="680" y2="700"/>
<line x1="680" y1="700" x2="680" y2="713"/>
<rect class="k" x="671.5" y="712.5" width="17" height="2"/>
<line x1="674.3" y1="714.5" x2="672.3" y2="720.5"/>
<line x1="680.3" y1="714.5" x2="678.3" y2="720.5"/>
<line x1="686.3" y1="714.5" x2="684.3" y2="720.5"/>
<text class="s" x="671.3" y="728.2" textLength="21.2" lengthAdjust="spacingAndGlyphs">GND</text>
<text class="s" text-anchor="middle" transform="translate(678.5 704.2) rotate(-90) scale(0.91 1)">1</text>
<text class="s" text-anchor="middle" transform="translate(678.5 705.2) rotate(-90) scale(0.91 1)">1</text>
<polyline points="790,70 780,70 780,90 850,90 850,360 920,360"/>
<path class="w" d="M792 67h2l2 2v2l-2 2h-2l-2 -2v-2z"/>
<path class="w" d="M816 67h2l2 2v2l-2 2h-2l-2 -2v-2z"/>
<path d="M796 70c2.5 -4 5.5 -4 9 0s6.500 4 9 0"/>
<line x1="820" y1="70" x2="843" y2="70"/>
<polyline points="849,70 870,70 870,60"/>
<rect class="k" x="841.5" y="63.5" width="2" height="13"/>
<polygon class="k" points="842.5,70 849.6,63.4 849.6,76.6"/>
<polygon class="w" points="865,60 875,60 870,50"/>
<text class="s" x="849.5" y="47.5" textLength="43.5" lengthAdjust="spacingAndGlyphs">VCC2(5V)</text>
<text class="s" text-anchor="middle" transform="translate(868 64) rotate(-90) scale(0.91 1)">1</text>
<text class="s" transform="translate(779.5 67.5) scale(0.91 1)" text-anchor="end">1</text>
<text class="s" transform="translate(828.5 67.5) scale(0.91 1)">22</text>
<text class="s" transform="translate(852.5 67.5) scale(0.91 1)">1</text>
<text class="s" transform="translate(797.5 83.3) scale(0.91 1)">1A</text>
<path class="w" d="M920 117L921 115L923 114L925 113L928 112L931 111L933 110L937 110L939 112L939 113L940 114L940 616L939 617L939 618L937 620L933 620L931 619L928 618L925 617L923 616L921 615L920 613z"/>
<path class="w" d="M924 117h2l2 2v2l-2 2h-2l-2 -2v-2z"/>
<line x1="920" y1="120" x2="922" y2="120"/>
<text class="s" transform="translate(901 117.4) scale(0.91 1)">50</text>
<text class="s" transform="translate(860 117.4) scale(0.91 1)">IO</text>
<path class="w" d="M934 127h2l2 2v2l-2 2h-2l-2 -2v-2z"/>
<line x1="938" y1="130" x2="960" y2="130"/>
<text class="s" transform="translate(948.5 127.4) scale(0.91 1)">25</text>
<path class="w" d="M924 137h2l2 2v2l-2 2h-2l-2 -2v-2z"/>
<line x1="920" y1="140" x2="922" y2="140"/>
<text class="s" transform="translate(901 137.4) scale(0.91 1)">49</text>
<text class="s" transform="translate(860 137.4) scale(0.91 1)">REQ</text>
<path class="w" d="M934 147h2l2 2v2l-2 2h-2l-2 -2v-2z"/>
<line x1="938" y1="150" x2="960" y2="150"/>
<text class="s" transform="translate(948.5 147.4) scale(0.91 1)">24</text>
<circle class="d" cx="960" cy="150" r="2.6"/>
<path class="w" d="M924 157h2l2 2v2l-2 2h-2l-2 -2v-2z"/>
<line x1="920" y1="160" x2="922" y2="160"/>
<text class="s" transform="translate(901 157.4) scale(0.91 1)">48</text>
<text class="s" transform="translate(860 157.4) scale(0.91 1)">CD</text>
<path class="w" d="M934 167h2l2 2v2l-2 2h-2l-2 -2v-2z"/>
<line x1="938" y1="170" x2="960" y2="170"/>
<text class="s" transform="translate(948.5 167.4) scale(0.91 1)">23</text>
<circle class="d" cx="960" cy="170" r="2.6"/>
<path class="w" d="M924 177h2l2 2v2l-2 2h-2l-2 -2v-2z"/>
<line x1="920" y1="180" x2="922" y2="180"/>
<text class="s" transform="translate(901 177.4) scale(0.91 1)">47</text>
<text class="s" transform="translate(860 177.4) scale(0.91 1)">SEL</text>
<path class="w" d="M934 187h2l2 2v2l-2 2h-2l-2 -2v-2z"/>
<line x1="938" y1="190" x2="960" y2="190"/>
<text class="s" transform="translate(948.5 187.4) scale(0.91 1)">22</text>
<circle class="d" cx="960" cy="190" r="2.6"/>
<path class="w" d="M924 197h2l2 2v2l-2 2h-2l-2 -2v-2z"/>
<line x1="920" y1="200" x2="922" y2="200"/>
<text class="s" transform="translate(901 197.4) scale(0.91 1)">46</text>
<text class="s" transform="translate(860 197.4) scale(0.91 1)">MSG</text>
<path class="w" d="M934 207h2l2 2v2l-2 2h-2l-2 -2v-2z"/>
<line x1="938" y1="210" x2="960" y2="210"/>
<text class="s" transform="translate(948.5 207.4) scale(0.91 1)">21</text>
<circle class="d" cx="960" cy="210" r="2.6"/>
<path class="w" d="M924 217h2l2 2v2l-2 2h-2l-2 -2v-2z"/>
<line x1="920" y1="220" x2="922" y2="220"/>
<text class="s" transform="translate(901 217.4) scale(0.91 1)">45</text>
<text class="s" transform="translate(860 217.4) scale(0.91 1)">RST</text>
<path class="w" d="M934 227h2l2 2v2l-2 2h-2l-2 -2v-2z"/>
<line x1="938" y1="230" x2="960" y2="230"/>
<text class="s" transform="translate(948.5 227.4) scale(0.91 1)">20</text>
<circle class="d" cx="960" cy="230" r="2.6"/>
<path class="w" d="M924 237h2l2 2v2l-2 2h-2l-2 -2v-2z"/>
<line x1="920" y1="240" x2="922" y2="240"/>
<text class="s" transform="translate(901 237.4) scale(0.91 1)">44</text>
<text class="s" transform="translate(860 237.4) scale(0.91 1)">ACK</text>
<path class="w" d="M934 247h2l2 2v2l-2 2h-2l-2 -2v-2z"/>
<line x1="938" y1="250" x2="960" y2="250"/>
<text class="s" transform="translate(948.5 247.4) scale(0.91 1)">19</text>
<circle class="d" cx="960" cy="250" r="2.6"/>
<path class="w" d="M924 257h2l2 2v2l-2 2h-2l-2 -2v-2z"/>
<line x1="920" y1="260" x2="922" y2="260"/>
<text class="s" transform="translate(901 257.4) scale(0.91 1)">43</text>
<text class="s" transform="translate(860 257.4) scale(0.91 1)">BSY</text>
<path class="w" d="M934 267h2l2 2v2l-2 2h-2l-2 -2v-2z"/>
<line x1="938" y1="270" x2="960" y2="270"/>
<text class="s" transform="translate(948.5 267.4) scale(0.91 1)">18</text>
<circle class="d" cx="960" cy="270" r="2.6"/>
<path class="w" d="M924 277h2l2 2v2l-2 2h-2l-2 -2v-2z"/>
<line x1="920" y1="280" x2="922" y2="280"/>
<text class="s" transform="translate(901 277.4) scale(0.91 1)">42</text>
<path class="w" d="M934 287h2l2 2v2l-2 2h-2l-2 -2v-2z"/>
<line x1="938" y1="290" x2="960" y2="290"/>
<text class="s" transform="translate(948.5 287.4) scale(0.91 1)">17</text>
<circle class="d" cx="960" cy="290" r="2.6"/>
<path class="w" d="M924 297h2l2 2v2l-2 2h-2l-2 -2v-2z"/>
<line x1="920" y1="300" x2="922" y2="300"/>
<text class="s" transform="translate(901 297.4) scale(0.91 1)">41</text>
<text class="s" transform="translate(860 297.4) scale(0.91 1)">ATN</text>
<path class="w" d="M934 307h2l2 2v2l-2 2h-2l-2 -2v-2z"/>
<line x1="938" y1="310" x2="960" y2="310"/>
<text class="s" transform="translate(948.5 307.4) scale(0.91 1)">16</text>
<circle class="d" cx="960" cy="310" r="2.6"/>
<path class="w" d="M924 317h2l2 2v2l-2 2h-2l-2 -2v-2z"/>
<line x1="920" y1="320" x2="922" y2="320"/>
<text class="s" transform="translate(901 317.4) scale(0.91 1)">40</text>
<path class="w" d="M934 327h2l2 2v2l-2 2h-2l-2 -2v-2z"/>
<line x1="938" y1="330" x2="960" y2="330"/>
<text class="s" transform="translate(948.5 327.4) scale(0.91 1)">15</text>
<circle class="d" cx="960" cy="330" r="2.6"/>
<path class="w" d="M924 337h2l2 2v2l-2 2h-2l-2 -2v-2z"/>
<line x1="920" y1="340" x2="922" y2="340"/>
<text class="s" transform="translate(901 337.4) scale(0.91 1)">39</text>
<path class="w" d="M934 347h2l2 2v2l-2 2h-2l-2 -2v-2z"/>
<line x1="938" y1="350" x2="960" y2="350"/>
<text class="s" transform="translate(948.5 347.4) scale(0.91 1)">14</text>
<circle class="d" cx="960" cy="350" r="2.6"/>
<path class="w" d="M924 357h2l2 2v2l-2 2h-2l-2 -2v-2z"/>
<line x1="920" y1="360" x2="922" y2="360"/>
<text class="s" transform="translate(901 357.4) scale(0.91 1)">38</text>
<text class="s" x="860" y="357.4" textLength="32.5" lengthAdjust="spacingAndGlyphs">TMPWR</text>
<path class="w" d="M934 367h2l2 2v2l-2 2h-2l-2 -2v-2z"/>
<line x1="938" y1="370" x2="960" y2="370"/>
<text class="s" transform="translate(948.5 367.4) scale(0.91 1)">13</text>
<circle class="d" cx="960" cy="370" r="2.6"/>
<path class="w" d="M924 377h2l2 2v2l-2 2h-2l-2 -2v-2z"/>
<line x1="920" y1="380" x2="922" y2="380"/>
<text class="s" transform="translate(901 377.4) scale(0.91 1)">37</text>
<path class="w" d="M934 387h2l2 2v2l-2 2h-2l-2 -2v-2z"/>
<line x1="938" y1="390" x2="960" y2="390"/>
<text class="s" transform="translate(948.5 387.4) scale(0.91 1)">12</text>
<circle class="d" cx="960" cy="390" r="2.6"/>
<path class="w" d="M924 397h2l2 2v2l-2 2h-2l-2 -2v-2z"/>
<line x1="920" y1="400" x2="922" y2="400"/>
<text class="s" transform="translate(901 397.4) scale(0.91 1)">36</text>
<path class="w" d="M934 407h2l2 2v2l-2 2h-2l-2 -2v-2z"/>
<line x1="938" y1="410" x2="960" y2="410"/>
<text class="s" transform="translate(948.5 407.4) scale(0.91 1)">11</text>
<circle class="d" cx="960" cy="410" r="2.6"/>
<path class="w" d="M924 417h2l2 2v2l-2 2h-2l-2 -2v-2z"/>
<line x1="920" y1="420" x2="922" y2="420"/>
<text class="s" transform="translate(901 417.4) scale(0.91 1)">35</text>
<path class="w" d="M934 427h2l2 2v2l-2 2h-2l-2 -2v-2z"/>
<line x1="938" y1="430" x2="960" y2="430"/>
<text class="s" transform="translate(948.5 427.4) scale(0.91 1)">10</text>
<circle class="d" cx="960" cy="430" r="2.6"/>
<path class="w" d="M924 437h2l2 2v2l-2 2h-2l-2 -2v-2z"/>
<line x1="920" y1="440" x2="922" y2="440"/>
<text class="s" transform="translate(901 437.4) scale(0.91 1)">34</text>
<text class="s" transform="translate(860 437.4) scale(0.91 1)">DP</text>
<path class="w" d="M934 447h2l2 2v2l-2 2h-2l-2 -2v-2z"/>
<line x1="938" y1="450" x2="960" y2="450"/>
<text class="s" transform="translate(948.5 447.4) scale(0.91 1)">9</text>
<circle class="d" cx="960" cy="450" r="2.6"/>
<path class="w" d="M924 457h2l2 2v2l-2 2h-2l-2 -2v-2z"/>
<line x1="920" y1="460" x2="922" y2="460"/>
<text class="s" transform="translate(901 457.4) scale(0.91 1)">33</text>
<text class="s" transform="translate(860 457.4) scale(0.91 1)">D7</text>
<path class="w" d="M934 467h2l2 2v2l-2 2h-2l-2 -2v-2z"/>
<line x1="938" y1="470" x2="960" y2="470"/>
<text class="s" transform="translate(948.5 467.4) scale(0.91 1)">8</text>
<circle class="d" cx="960" cy="470" r="2.6"/>
<path class="w" d="M924 477h2l2 2v2l-2 2h-2l-2 -2v-2z"/>
<line x1="920" y1="480" x2="922" y2="480"/>
<text class="s" transform="translate(901 477.4) scale(0.91 1)">32</text>
<text class="s" transform="translate(860 477.4) scale(0.91 1)">D6</text>
<path class="w" d="M934 487h2l2 2v2l-2 2h-2l-2 -2v-2z"/>
<line x1="938" y1="490" x2="960" y2="490"/>
<text class="s" transform="translate(948.5 487.4) scale(0.91 1)">7</text>
<circle class="d" cx="960" cy="490" r="2.6"/>
<path class="w" d="M924 497h2l2 2v2l-2 2h-2l-2 -2v-2z"/>
<line x1="920" y1="500" x2="922" y2="500"/>
<text class="s" transform="translate(901 497.4) scale(0.91 1)">31</text>
<text class="s" transform="translate(860 497.4) scale(0.91 1)">D5</text>
<path class="w" d="M934 507h2l2 2v2l-2 2h-2l-2 -2v-2z"/>
<line x1="938" y1="510" x2="960" y2="510"/>
<text class="s" transform="translate(948.5 507.4) scale(0.91 1)">6</text>
<circle class="d" cx="960" cy="510" r="2.6"/>
<path class="w" d="M924 517h2l2 2v2l-2 2h-2l-2 -2v-2z"/>
<line x1="920" y1="520" x2="922" y2="520"/>
<text class="s" transform="translate(901 517.4) scale(0.91 1)">30</text>
<text class="s" transform="translate(860 517.4) scale(0.91 1)">D4</text>
<path class="w" d="M934 527h2l2 2v2l-2 2h-2l-2 -2v-2z"/>
<line x1="938" y1="530" x2="960" y2="530"/>
<text class="s" transform="translate(948.5 527.4) scale(0.91 1)">5</text>
<circle class="d" cx="960" cy="530" r="2.6"/>
<path class="w" d="M924 537h2l2 2v2l-2 2h-2l-2 -2v-2z"/>
<line x1="920" y1="540" x2="922" y2="540"/>
<text class="s" transform="translate(901 537.4) scale(0.91 1)">29</text>
<text class="s" transform="translate(860 537.4) scale(0.91 1)">D3</text>
<path class="w" d="M934 547h2l2 2v2l-2 2h-2l-2 -2v-2z"/>
<line x1="938" y1="550" x2="960" y2="550"/>
<text class="s" transform="translate(948.5 547.4) scale(0.91 1)">4</text>
<circle class="d" cx="960" cy="550" r="2.6"/>
<path class="w" d="M924 557h2l2 2v2l-2 2h-2l-2 -2v-2z"/>
<line x1="920" y1="560" x2="922" y2="560"/>
<text class="s" transform="translate(901 557.4) scale(0.91 1)">28</text>
<text class="s" transform="translate(860 557.4) scale(0.91 1)">D2</text>
<path class="w" d="M934 567h2l2 2v2l-2 2h-2l-2 -2v-2z"/>
<line x1="938" y1="570" x2="960" y2="570"/>
<text class="s" transform="translate(948.5 567.4) scale(0.91 1)">3</text>
<circle class="d" cx="960" cy="570" r="2.6"/>
<path class="w" d="M924 577h2l2 2v2l-2 2h-2l-2 -2v-2z"/>
<line x1="920" y1="580" x2="922" y2="580"/>
<text class="s" transform="translate(901 577.4) scale(0.91 1)">27</text>
<text class="s" transform="translate(860 577.4) scale(0.91 1)">D1</text>
<path class="w" d="M934 587h2l2 2v2l-2 2h-2l-2 -2v-2z"/>
<line x1="938" y1="590" x2="960" y2="590"/>
<text class="s" transform="translate(948.5 587.4) scale(0.91 1)">2</text>
<circle class="d" cx="960" cy="590" r="2.6"/>
<path class="w" d="M924 597h2l2 2v2l-2 2h-2l-2 -2v-2z"/>
<line x1="920" y1="600" x2="922" y2="600"/>
<text class="s" transform="translate(901 597.4) scale(0.91 1)">26</text>
<text class="s" transform="translate(860 597.4) scale(0.91 1)">D0</text>
<path class="w" d="M934 607h2l2 2v2l-2 2h-2l-2 -2v-2z"/>
<line x1="938" y1="610" x2="960" y2="610"/>
<text class="s" transform="translate(948.5 607.4) scale(0.91 1)">1</text>
<circle class="d" cx="960" cy="610" r="2.6"/>
<line x1="960" y1="130" x2="960" y2="630"/>
<line x1="960" y1="630" x2="960" y2="643"/>
<rect class="k" x="951.5" y="642.5" width="17" height="2"/>
<line x1="954.3" y1="644.5" x2="952.3" y2="650.5"/>
<line x1="960.3" y1="644.5" x2="958.3" y2="650.5"/>
<line x1="966.3" y1="644.5" x2="964.3" y2="650.5"/>
<text class="s" x="951.3" y="658.2" textLength="21.2" lengthAdjust="spacingAndGlyphs">GND</text>
<text class="s" text-anchor="middle" transform="translate(958.5 634.7) rotate(-90) scale(0.91 1)">1</text>
<polyline points="920,280 910,280 910,420 920,420"/>
<line x1="910" y1="320" x2="920" y2="320"/>
<circle class="d" cx="910" cy="320" r="2.6"/>
<line x1="910" y1="340" x2="920" y2="340"/>
<circle class="d" cx="910" cy="340" r="2.6"/>
<line x1="910" y1="380" x2="920" y2="380"/>
<circle class="d" cx="910" cy="380" r="2.6"/>
<line x1="910" y1="400" x2="920" y2="400"/>
<circle class="d" cx="910" cy="400" r="2.6"/>
<line x1="910" y1="400" x2="880" y2="400"/>
<line x1="880" y1="400" x2="880" y2="413"/>
<rect class="k" x="871.5" y="412.5" width="17" height="2"/>
<line x1="874.3" y1="414.5" x2="872.3" y2="420.5"/>
<line x1="880.3" y1="414.5" x2="878.3" y2="420.5"/>
<line x1="886.3" y1="414.5" x2="884.3" y2="420.5"/>
<text class="s" x="871.3" y="428.2" textLength="21.2" lengthAdjust="spacingAndGlyphs">GND</text>
<text class="s" text-anchor="middle" transform="translate(878.5 404.7) rotate(-90) scale(0.91 1)">1</text>
<polygon class="w" points="240,720 245,715 285,715 290,720 285,725 245,725"/>
<text class="s" transform="translate(264.8 722.1) scale(0.91 1)" text-anchor="middle">VCC1</text>
<polyline points="290,720 310,720 310,705"/>
<circle cx="310" cy="705" r="5"/>
<line x1="301.5" y1="705" x2="317.5" y2="705"/>
<text class="s" x="287" y="695.7" textLength="50.5" lengthAdjust="spacingAndGlyphs">VCC1(3.3V)</text>
<text class="s" text-anchor="middle" transform="translate(308.5 713.5) rotate(-90) scale(0.91 1)">1</text>
<polygon class="w" points="330,720 335,715 375,715 380,720 375,725 335,725"/>
<text class="s" transform="translate(354.8 722.1) scale(0.91 1)" text-anchor="middle">VCC2</text>
<polyline points="380,720 400,720 400,710"/>
<polygon class="w" points="395,710 405,710 400,700"/>
<text class="s" x="379.5" y="697.7" textLength="43" lengthAdjust="spacingAndGlyphs">VCC2(5V)</text>
<text class="s" text-anchor="middle" transform="translate(398.5 713.5) rotate(-90) scale(0.91 1)">1</text>
<polygon class="w" points="430,700 435,695 465,695 470,700 465,705 435,705"/>
<text class="s" transform="translate(449.8 702.1) scale(0.91 1)" text-anchor="middle">GND</text>
<line x1="470" y1="700" x2="490" y2="700"/>
<line x1="490" y1="700" x2="490" y2="713"/>
<rect class="k" x="481.5" y="712.5" width="17" height="2"/>
<line x1="484.3" y1="714.5" x2="482.3" y2="720.5"/>
<line x1="490.3" y1="714.5" x2="488.3" y2="720.5"/>
<line x1="496.3" y1="714.5" x2="494.3" y2="720.5"/>
<text class="s" x="481.3" y="728.2" textLength="21.2" lengthAdjust="spacingAndGlyphs">GND</text>
<text class="s" text-anchor="middle" transform="translate(488.5 704.7) rotate(-90) scale(0.91 1)">1</text>
</g>
</svg>
</body>
</html>
